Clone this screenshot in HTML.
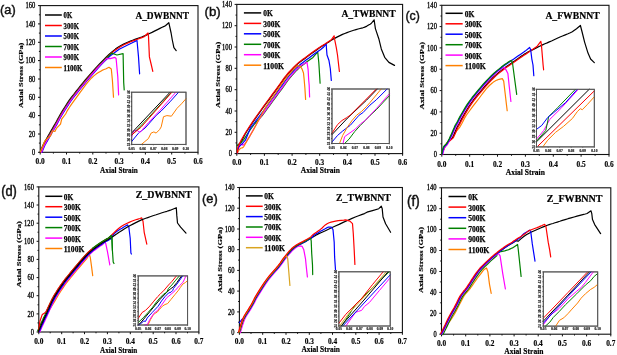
<!DOCTYPE html>
<html><head><meta charset="utf-8"><style>
html,body{margin:0;padding:0;background:#fff;}
body{width:617px;height:355px;overflow:hidden;}
svg{display:block;will-change:transform;}
</style></head><body>
<svg xmlns="http://www.w3.org/2000/svg" width="617" height="355" viewBox="0 0 617 355">
<rect width="617" height="355" fill="#fff"/>
<rect x="40.2" y="5.6" width="157.8" height="146.7" fill="none" stroke="#111" stroke-width="1.1"/>
<line x1="38.0" y1="152.3" x2="40.2" y2="152.3" stroke="#111" stroke-width="1"/>
<text x="35.3" y="154.9" font-family='"Liberation Serif", serif' font-size="7.6" text-anchor="end" textLength="3.2" lengthAdjust="spacingAndGlyphs" fill="#000"  stroke="#000" stroke-width="0.3">0</text>
<line x1="38.9" y1="143.1" x2="40.2" y2="143.1" stroke="#111" stroke-width="1"/>
<line x1="38.0" y1="134.0" x2="40.2" y2="134.0" stroke="#111" stroke-width="1"/>
<text x="35.3" y="136.6" font-family='"Liberation Serif", serif' font-size="7.6" text-anchor="end" textLength="6.5" lengthAdjust="spacingAndGlyphs" fill="#000"  stroke="#000" stroke-width="0.3">20</text>
<line x1="38.9" y1="124.8" x2="40.2" y2="124.8" stroke="#111" stroke-width="1"/>
<line x1="38.0" y1="115.6" x2="40.2" y2="115.6" stroke="#111" stroke-width="1"/>
<text x="35.3" y="118.2" font-family='"Liberation Serif", serif' font-size="7.6" text-anchor="end" textLength="6.5" lengthAdjust="spacingAndGlyphs" fill="#000"  stroke="#000" stroke-width="0.3">40</text>
<line x1="38.9" y1="106.5" x2="40.2" y2="106.5" stroke="#111" stroke-width="1"/>
<line x1="38.0" y1="97.3" x2="40.2" y2="97.3" stroke="#111" stroke-width="1"/>
<text x="35.3" y="99.9" font-family='"Liberation Serif", serif' font-size="7.6" text-anchor="end" textLength="6.5" lengthAdjust="spacingAndGlyphs" fill="#000"  stroke="#000" stroke-width="0.3">60</text>
<line x1="38.9" y1="88.1" x2="40.2" y2="88.1" stroke="#111" stroke-width="1"/>
<line x1="38.0" y1="79.0" x2="40.2" y2="79.0" stroke="#111" stroke-width="1"/>
<text x="35.3" y="81.5" font-family='"Liberation Serif", serif' font-size="7.6" text-anchor="end" textLength="6.5" lengthAdjust="spacingAndGlyphs" fill="#000"  stroke="#000" stroke-width="0.3">80</text>
<line x1="38.9" y1="69.8" x2="40.2" y2="69.8" stroke="#111" stroke-width="1"/>
<line x1="38.0" y1="60.6" x2="40.2" y2="60.6" stroke="#111" stroke-width="1"/>
<text x="35.3" y="63.2" font-family='"Liberation Serif", serif' font-size="7.6" text-anchor="end" textLength="9.8" lengthAdjust="spacingAndGlyphs" fill="#000"  stroke="#000" stroke-width="0.3">100</text>
<line x1="38.9" y1="51.4" x2="40.2" y2="51.4" stroke="#111" stroke-width="1"/>
<line x1="38.0" y1="42.3" x2="40.2" y2="42.3" stroke="#111" stroke-width="1"/>
<text x="35.3" y="44.9" font-family='"Liberation Serif", serif' font-size="7.6" text-anchor="end" textLength="9.8" lengthAdjust="spacingAndGlyphs" fill="#000"  stroke="#000" stroke-width="0.3">120</text>
<line x1="38.9" y1="33.1" x2="40.2" y2="33.1" stroke="#111" stroke-width="1"/>
<line x1="38.0" y1="23.9" x2="40.2" y2="23.9" stroke="#111" stroke-width="1"/>
<text x="35.3" y="26.5" font-family='"Liberation Serif", serif' font-size="7.6" text-anchor="end" textLength="9.8" lengthAdjust="spacingAndGlyphs" fill="#000"  stroke="#000" stroke-width="0.3">140</text>
<line x1="38.9" y1="14.8" x2="40.2" y2="14.8" stroke="#111" stroke-width="1"/>
<line x1="38.0" y1="5.6" x2="40.2" y2="5.6" stroke="#111" stroke-width="1"/>
<text x="35.3" y="8.2" font-family='"Liberation Serif", serif' font-size="7.6" text-anchor="end" textLength="9.8" lengthAdjust="spacingAndGlyphs" fill="#000"  stroke="#000" stroke-width="0.3">160</text>
<line x1="40.2" y1="152.3" x2="40.2" y2="154.5" stroke="#111" stroke-width="1"/>
<text x="40.2" y="163.9" font-family='"Liberation Serif", serif' font-size="7.8" font-weight="bold" text-anchor="middle" textLength="9.2" lengthAdjust="spacingAndGlyphs" fill="#000"  stroke="#000" stroke-width="0.15">0.0</text>
<line x1="53.4" y1="152.3" x2="53.4" y2="153.6" stroke="#111" stroke-width="1"/>
<line x1="66.5" y1="152.3" x2="66.5" y2="154.5" stroke="#111" stroke-width="1"/>
<text x="66.5" y="163.9" font-family='"Liberation Serif", serif' font-size="7.8" font-weight="bold" text-anchor="middle" textLength="9.2" lengthAdjust="spacingAndGlyphs" fill="#000"  stroke="#000" stroke-width="0.15">0.1</text>
<line x1="79.7" y1="152.3" x2="79.7" y2="153.6" stroke="#111" stroke-width="1"/>
<line x1="92.8" y1="152.3" x2="92.8" y2="154.5" stroke="#111" stroke-width="1"/>
<text x="92.8" y="163.9" font-family='"Liberation Serif", serif' font-size="7.8" font-weight="bold" text-anchor="middle" textLength="9.2" lengthAdjust="spacingAndGlyphs" fill="#000"  stroke="#000" stroke-width="0.15">0.2</text>
<line x1="106.0" y1="152.3" x2="106.0" y2="153.6" stroke="#111" stroke-width="1"/>
<line x1="119.1" y1="152.3" x2="119.1" y2="154.5" stroke="#111" stroke-width="1"/>
<text x="119.1" y="163.9" font-family='"Liberation Serif", serif' font-size="7.8" font-weight="bold" text-anchor="middle" textLength="9.2" lengthAdjust="spacingAndGlyphs" fill="#000"  stroke="#000" stroke-width="0.15">0.3</text>
<line x1="132.3" y1="152.3" x2="132.3" y2="153.6" stroke="#111" stroke-width="1"/>
<line x1="145.4" y1="152.3" x2="145.4" y2="154.5" stroke="#111" stroke-width="1"/>
<text x="145.4" y="163.9" font-family='"Liberation Serif", serif' font-size="7.8" font-weight="bold" text-anchor="middle" textLength="9.2" lengthAdjust="spacingAndGlyphs" fill="#000"  stroke="#000" stroke-width="0.15">0.4</text>
<line x1="158.6" y1="152.3" x2="158.6" y2="153.6" stroke="#111" stroke-width="1"/>
<line x1="171.7" y1="152.3" x2="171.7" y2="154.5" stroke="#111" stroke-width="1"/>
<text x="171.7" y="163.9" font-family='"Liberation Serif", serif' font-size="7.8" font-weight="bold" text-anchor="middle" textLength="9.2" lengthAdjust="spacingAndGlyphs" fill="#000"  stroke="#000" stroke-width="0.15">0.5</text>
<line x1="184.9" y1="152.3" x2="184.9" y2="153.6" stroke="#111" stroke-width="1"/>
<line x1="198.0" y1="152.3" x2="198.0" y2="154.5" stroke="#111" stroke-width="1"/>
<text x="198.0" y="163.9" font-family='"Liberation Serif", serif' font-size="7.8" font-weight="bold" text-anchor="middle" textLength="9.2" lengthAdjust="spacingAndGlyphs" fill="#000"  stroke="#000" stroke-width="0.15">0.6</text>
<text x="100.1" y="172.5" font-family='"Liberation Serif", serif' font-size="8.8" font-weight="bold" text-anchor="start" textLength="37.6" lengthAdjust="spacingAndGlyphs" fill="#000"  stroke="#000" stroke-width="0.2">Axial Strain</text>
<text transform="translate(23.2,75.3) rotate(-90) scale(1,0.84)" x="0" y="0" font-family='"Liberation Serif", serif' font-size="8.4" font-weight="bold" text-anchor="middle" textLength="65.3" lengthAdjust="spacingAndGlyphs" stroke="#000" stroke-width="0.2">Axial Stress (GPa)</text>
<text x="0.1" y="13.7" font-family='"Liberation Sans", sans-serif' font-size="13.52" text-anchor="start" textLength="15.6" lengthAdjust="spacingAndGlyphs" fill="#111"  stroke="#111" stroke-width="0.45">(a)</text>
<text x="135.4" y="18.8" font-family='"Liberation Serif", serif' font-size="9.8" font-weight="bold" text-anchor="start" textLength="53.6" lengthAdjust="spacingAndGlyphs" fill="#000"  stroke="#000" stroke-width="0.2">A_DWBNNT</text>
<line x1="45" y1="15.0" x2="61.8" y2="15.0" stroke="#000000" stroke-width="1.5"/>
<text x="63.6" y="18.4" font-family='"Liberation Serif", serif' font-size="8.9" font-weight="bold" text-anchor="start" textLength="8.6" lengthAdjust="spacingAndGlyphs" fill="#000"  stroke="#000" stroke-width="0.25">0K</text>
<line x1="45" y1="25.5" x2="61.8" y2="25.5" stroke="#ff0000" stroke-width="1.5"/>
<text x="63.6" y="28.9" font-family='"Liberation Serif", serif' font-size="8.9" font-weight="bold" text-anchor="start" textLength="15.4" lengthAdjust="spacingAndGlyphs" fill="#000"  stroke="#000" stroke-width="0.25">300K</text>
<line x1="45" y1="36.0" x2="61.8" y2="36.0" stroke="#0000ff" stroke-width="1.5"/>
<text x="63.6" y="39.4" font-family='"Liberation Serif", serif' font-size="8.9" font-weight="bold" text-anchor="start" textLength="15.4" lengthAdjust="spacingAndGlyphs" fill="#000"  stroke="#000" stroke-width="0.25">500K</text>
<line x1="45" y1="46.5" x2="61.8" y2="46.5" stroke="#008000" stroke-width="1.5"/>
<text x="63.6" y="49.9" font-family='"Liberation Serif", serif' font-size="8.9" font-weight="bold" text-anchor="start" textLength="15.4" lengthAdjust="spacingAndGlyphs" fill="#000"  stroke="#000" stroke-width="0.25">700K</text>
<line x1="45" y1="57.0" x2="61.8" y2="57.0" stroke="#ff00ff" stroke-width="1.5"/>
<text x="63.6" y="60.4" font-family='"Liberation Serif", serif' font-size="8.9" font-weight="bold" text-anchor="start" textLength="15.4" lengthAdjust="spacingAndGlyphs" fill="#000"  stroke="#000" stroke-width="0.25">900K</text>
<line x1="45" y1="67.5" x2="61.8" y2="67.5" stroke="#ff8000" stroke-width="1.5"/>
<text x="63.6" y="70.9" font-family='"Liberation Serif", serif' font-size="8.9" font-weight="bold" text-anchor="start" textLength="18.8" lengthAdjust="spacingAndGlyphs" fill="#000"  stroke="#000" stroke-width="0.25">1100K</text>
<polyline points="40.3,151.7 40.8,150.5 41.4,148.8 42.3,146.7 43.3,144.5 44.6,142.0 46.2,139.2 47.9,136.3 49.5,133.5 51.0,130.9 52.5,128.4 53.9,125.9 55.3,123.5 56.6,121.2 57.7,119.0 59.0,116.7 60.5,114.0 62.4,110.8 64.7,107.2 67.0,103.6 69.3,100.2 71.5,97.1 73.8,94.3 76.0,91.4 78.3,88.6 80.6,85.7 82.9,82.9 85.3,80.0 87.9,77.0 90.8,73.7 93.8,70.2 97.0,66.7 100.0,63.4 103.0,60.3 105.9,57.4 108.7,54.7 111.3,52.4 113.5,50.6 115.4,49.1 117.2,47.8 119.2,46.6 121.4,45.3 123.6,44.1 125.9,43.0 128.2,42.0 130.4,41.1 132.7,40.2 134.9,39.4 137.2,38.6 139.4,37.8 141.6,37.0 143.9,36.1 146.3,35.1 149.0,33.8 152.0,32.4 154.9,30.9 157.5,29.6 159.9,28.4 162.2,27.3 164.1,26.4 165.4,25.7 168.8,22.7 171.1,33.0 172.3,40.0 173.9,47.7 176.2,50.6" fill="none" stroke="#000000" stroke-width="1.2" stroke-linejoin="round" stroke-linecap="round"/>
<polyline points="41.0,152.0 41.4,150.7 42.1,149.0 42.9,147.0 43.9,144.8 45.2,142.3 46.8,139.5 48.5,136.6 50.1,133.8 51.6,131.3 53.1,128.8 54.5,126.3 55.9,123.8 57.2,121.5 58.3,119.3 59.6,117.0 61.1,114.4 63.0,111.2 65.3,107.6 67.6,104.0 69.9,100.6 72.1,97.6 74.3,94.7 76.5,91.9 78.8,89.0 81.1,86.2 83.4,83.4 85.8,80.5 88.4,77.5 91.3,74.1 94.4,70.6 97.5,67.1 100.5,63.9 103.5,60.8 106.4,57.9 109.2,55.2 111.8,52.9 113.9,51.1 115.8,49.7 117.6,48.4 119.6,47.2 121.7,46.0 123.9,44.8 126.2,43.7 128.5,42.6 130.7,41.7 132.9,40.9 135.2,40.1 137.4,39.3 139.7,38.4 141.9,37.6 144.1,36.8 148.0,33.0 148.5,36.4 149.4,56.9 151.1,64.0 152.8,71.3" fill="none" stroke="#ff0000" stroke-width="1.2" stroke-linejoin="round" stroke-linecap="round"/>
<polyline points="42.0,152.3 42.4,151.1 43.1,149.5 43.9,147.5 44.9,145.3 46.2,142.9 47.8,140.1 49.5,137.2 51.1,134.4 52.5,131.8 54.0,129.3 55.5,126.8 56.9,124.4 58.1,122.0 59.3,119.8 60.5,117.5 62.0,114.9 64.0,111.7 66.2,108.2 68.5,104.6 70.8,101.2 73.0,98.2 75.2,95.4 77.4,92.6 79.7,89.7 82.0,86.9 84.3,84.1 86.7,81.2 89.3,78.2 92.1,74.9 95.2,71.4 98.3,67.9 101.3,64.6 104.2,61.6 107.2,58.7 110.0,56.0 119.2,49.2 128.2,44.8 137.0,40.5 138.5,56.9 139.6,73.8" fill="none" stroke="#0000ff" stroke-width="1.2" stroke-linejoin="round" stroke-linecap="round"/>
<polyline points="41.1,152.0 41.6,150.8 42.2,149.1 43.1,147.1 44.1,144.9 45.4,142.4 47.0,139.6 48.7,136.7 50.3,133.9 51.8,131.4 53.2,128.9 54.7,126.4 56.1,123.9 57.4,121.6 58.5,119.4 59.7,117.1 61.3,114.5 63.2,111.3 65.4,107.7 67.8,104.1 70.0,100.7 72.2,97.7 74.5,94.8 76.7,92.0 79.0,89.2 81.3,86.3 83.6,83.5 86.0,80.6 88.6,77.6 91.4,74.3 94.5,70.8 97.6,67.3 100.7,64.0 103.6,61.0 106.5,58.1 109.3,55.4 111.9,53.1 116.9,55.0 123.1,53.7 123.7,82.5 124.2,89.9" fill="none" stroke="#008000" stroke-width="1.2" stroke-linejoin="round" stroke-linecap="round"/>
<polyline points="41.5,152.2 42.0,151.0 42.6,149.3 43.4,147.3 44.5,145.1 45.8,142.6 47.4,139.8 49.0,136.9 50.6,134.1 52.1,131.6 53.6,129.1 55.0,126.6 56.4,124.1 57.7,121.8 58.9,119.6 60.1,117.3 61.6,114.7 63.5,111.5 65.8,107.9 68.1,104.3 70.4,100.9 72.6,97.9 74.8,95.1 77.0,92.3 79.3,89.4 81.6,86.6 83.9,83.8 86.3,80.9 88.9,77.8 91.7,74.5 94.8,71.0 97.9,67.5 100.9,64.3 103.9,61.3 106.8,58.3 110.1,58.7 114.9,57.3 116.1,58.5 117.8,76.9 118.6,94.9" fill="none" stroke="#ff00ff" stroke-width="1.2" stroke-linejoin="round" stroke-linecap="round"/>
<polyline points="40.3,151.7 42.5,146.7 44.8,141.0 47.0,138.8 50.4,136.0 52.6,130.9 54.9,131.5 56.6,128.1 60.5,124.1 61.7,119.1 65.6,114.0 65.6,114.0 66.1,113.0 66.7,111.7 67.8,109.9 69.3,107.5 71.6,104.2 74.5,100.1 77.6,95.8 80.5,91.8 83.3,88.1 86.0,84.4 88.7,81.1 91.3,78.2 93.8,75.9 96.1,74.1 98.4,72.6 100.3,71.4 102.0,70.4 103.5,69.8 104.7,69.3 105.6,69.0 109.0,67.3 111.3,69.0 112.4,80.3 113.5,97.2" fill="none" stroke="#ff8000" stroke-width="1.2" stroke-linejoin="round" stroke-linecap="round"/>
<rect x="131.7" y="92.2" width="54.3" height="52.2" fill="#fff" stroke="#555" stroke-width="0.9"/>
<polyline points="141.5,144.4 144.9,141.5 148.3,138.7 151.1,133.1 153.9,131.9 156.1,133.1 159.5,129.7 161.2,126.9 163.5,116.7 166.9,115.6 171.4,116.2 177.0,108.3 181.5,103.8 186.0,98.7" fill="none" stroke="#ff8000" stroke-width="1.0" stroke-linejoin="round" stroke-linecap="round"/>
<polyline points="131.7,141.5 134.5,138.0 139.0,132.6 145.1,128.0 151.3,121.0 156.3,115.3 161.0,111.2 170.0,101.8 178.6,92.2" fill="none" stroke="#0000ff" stroke-width="1.0" stroke-linejoin="round" stroke-linecap="round"/>
<polyline points="131.7,136.6 133.6,131.0 136.8,130.1 139.9,132.6 144.1,127.6 148.5,122.6 154.1,116.5 160.0,110.3 175.9,92.2" fill="none" stroke="#ff00ff" stroke-width="1.0" stroke-linejoin="round" stroke-linecap="round"/>
<polyline points="131.7,135.3 148.6,117.6 171.5,92.2" fill="none" stroke="#008000" stroke-width="1.0" stroke-linejoin="round" stroke-linecap="round"/>
<polyline points="131.7,134.9 141.1,127.2 158.0,108.0 171.9,92.2" fill="none" stroke="#ff0000" stroke-width="1.0" stroke-linejoin="round" stroke-linecap="round"/>
<polyline points="131.7,132.9 170.1,92.2" fill="none" stroke="#000000" stroke-width="1.0" stroke-linejoin="round" stroke-linecap="round"/>
<rect x="131.7" y="92.2" width="54.3" height="52.2" fill="none" stroke="#555" stroke-width="0.9"/>
<line x1="131.7" y1="144.4" x2="131.7" y2="145.4" stroke="#555" stroke-width="0.6"/>
<text x="131.7" y="149.6" font-family='"Liberation Serif", serif' font-size="3.3" font-weight="bold" text-anchor="middle" textLength="6.3" lengthAdjust="spacingAndGlyphs" fill="#222"  stroke="#222" stroke-width="0.15">0.05</text>
<line x1="142.6" y1="144.4" x2="142.6" y2="145.4" stroke="#555" stroke-width="0.6"/>
<text x="142.6" y="149.6" font-family='"Liberation Serif", serif' font-size="3.3" font-weight="bold" text-anchor="middle" textLength="6.3" lengthAdjust="spacingAndGlyphs" fill="#222"  stroke="#222" stroke-width="0.15">0.06</text>
<line x1="153.4" y1="144.4" x2="153.4" y2="145.4" stroke="#555" stroke-width="0.6"/>
<text x="153.4" y="149.6" font-family='"Liberation Serif", serif' font-size="3.3" font-weight="bold" text-anchor="middle" textLength="6.3" lengthAdjust="spacingAndGlyphs" fill="#222"  stroke="#222" stroke-width="0.15">0.07</text>
<line x1="164.3" y1="144.4" x2="164.3" y2="145.4" stroke="#555" stroke-width="0.6"/>
<text x="164.3" y="149.6" font-family='"Liberation Serif", serif' font-size="3.3" font-weight="bold" text-anchor="middle" textLength="6.3" lengthAdjust="spacingAndGlyphs" fill="#222"  stroke="#222" stroke-width="0.15">0.08</text>
<line x1="175.1" y1="144.4" x2="175.1" y2="145.4" stroke="#555" stroke-width="0.6"/>
<text x="175.1" y="149.6" font-family='"Liberation Serif", serif' font-size="3.3" font-weight="bold" text-anchor="middle" textLength="6.3" lengthAdjust="spacingAndGlyphs" fill="#222"  stroke="#222" stroke-width="0.15">0.09</text>
<line x1="186.0" y1="144.4" x2="186.0" y2="145.4" stroke="#555" stroke-width="0.6"/>
<text x="186.0" y="149.6" font-family='"Liberation Serif", serif' font-size="3.3" font-weight="bold" text-anchor="middle" textLength="6.3" lengthAdjust="spacingAndGlyphs" fill="#222"  stroke="#222" stroke-width="0.15">0.10</text>
<line x1="130.7" y1="144.4" x2="131.7" y2="144.4" stroke="#333" stroke-width="0.7"/>
<text transform="translate(129.7,144.4) rotate(-90)" font-family='"Liberation Serif", serif' font-size="3.4" font-weight="bold" text-anchor="middle" textLength="3.6" lengthAdjust="spacingAndGlyphs" fill="#222" stroke="#222" stroke-width="0.15">24</text>
<line x1="130.7" y1="139.7" x2="131.7" y2="139.7" stroke="#333" stroke-width="0.7"/>
<text transform="translate(129.7,139.7) rotate(-90)" font-family='"Liberation Serif", serif' font-size="3.4" font-weight="bold" text-anchor="middle" textLength="3.6" lengthAdjust="spacingAndGlyphs" fill="#222" stroke="#222" stroke-width="0.15">26</text>
<line x1="130.7" y1="134.9" x2="131.7" y2="134.9" stroke="#333" stroke-width="0.7"/>
<text transform="translate(129.7,134.9) rotate(-90)" font-family='"Liberation Serif", serif' font-size="3.4" font-weight="bold" text-anchor="middle" textLength="3.6" lengthAdjust="spacingAndGlyphs" fill="#222" stroke="#222" stroke-width="0.15">28</text>
<line x1="130.7" y1="130.2" x2="131.7" y2="130.2" stroke="#333" stroke-width="0.7"/>
<text transform="translate(129.7,130.2) rotate(-90)" font-family='"Liberation Serif", serif' font-size="3.4" font-weight="bold" text-anchor="middle" textLength="3.6" lengthAdjust="spacingAndGlyphs" fill="#222" stroke="#222" stroke-width="0.15">30</text>
<line x1="130.7" y1="125.4" x2="131.7" y2="125.4" stroke="#333" stroke-width="0.7"/>
<text transform="translate(129.7,125.4) rotate(-90)" font-family='"Liberation Serif", serif' font-size="3.4" font-weight="bold" text-anchor="middle" textLength="3.6" lengthAdjust="spacingAndGlyphs" fill="#222" stroke="#222" stroke-width="0.15">32</text>
<line x1="130.7" y1="120.7" x2="131.7" y2="120.7" stroke="#333" stroke-width="0.7"/>
<text transform="translate(129.7,120.7) rotate(-90)" font-family='"Liberation Serif", serif' font-size="3.4" font-weight="bold" text-anchor="middle" textLength="3.6" lengthAdjust="spacingAndGlyphs" fill="#222" stroke="#222" stroke-width="0.15">34</text>
<line x1="130.7" y1="115.9" x2="131.7" y2="115.9" stroke="#333" stroke-width="0.7"/>
<text transform="translate(129.7,115.9) rotate(-90)" font-family='"Liberation Serif", serif' font-size="3.4" font-weight="bold" text-anchor="middle" textLength="3.6" lengthAdjust="spacingAndGlyphs" fill="#222" stroke="#222" stroke-width="0.15">36</text>
<line x1="130.7" y1="111.2" x2="131.7" y2="111.2" stroke="#333" stroke-width="0.7"/>
<text transform="translate(129.7,111.2) rotate(-90)" font-family='"Liberation Serif", serif' font-size="3.4" font-weight="bold" text-anchor="middle" textLength="3.6" lengthAdjust="spacingAndGlyphs" fill="#222" stroke="#222" stroke-width="0.15">38</text>
<line x1="130.7" y1="106.4" x2="131.7" y2="106.4" stroke="#333" stroke-width="0.7"/>
<text transform="translate(129.7,106.4) rotate(-90)" font-family='"Liberation Serif", serif' font-size="3.4" font-weight="bold" text-anchor="middle" textLength="3.6" lengthAdjust="spacingAndGlyphs" fill="#222" stroke="#222" stroke-width="0.15">40</text>
<line x1="130.7" y1="101.7" x2="131.7" y2="101.7" stroke="#333" stroke-width="0.7"/>
<text transform="translate(129.7,101.7) rotate(-90)" font-family='"Liberation Serif", serif' font-size="3.4" font-weight="bold" text-anchor="middle" textLength="3.6" lengthAdjust="spacingAndGlyphs" fill="#222" stroke="#222" stroke-width="0.15">42</text>
<line x1="130.7" y1="96.9" x2="131.7" y2="96.9" stroke="#333" stroke-width="0.7"/>
<text transform="translate(129.7,96.9) rotate(-90)" font-family='"Liberation Serif", serif' font-size="3.4" font-weight="bold" text-anchor="middle" textLength="3.6" lengthAdjust="spacingAndGlyphs" fill="#222" stroke="#222" stroke-width="0.15">44</text>
<line x1="130.7" y1="92.2" x2="131.7" y2="92.2" stroke="#333" stroke-width="0.7"/>
<text transform="translate(129.7,92.2) rotate(-90)" font-family='"Liberation Serif", serif' font-size="3.4" font-weight="bold" text-anchor="middle" textLength="3.6" lengthAdjust="spacingAndGlyphs" fill="#222" stroke="#222" stroke-width="0.15">46</text>
<rect x="236.8" y="4.4" width="165.8" height="149.2" fill="none" stroke="#111" stroke-width="1.1"/>
<line x1="234.6" y1="153.6" x2="236.8" y2="153.6" stroke="#111" stroke-width="1"/>
<text x="231.9" y="156.2" font-family='"Liberation Serif", serif' font-size="7.6" text-anchor="end" textLength="3.2" lengthAdjust="spacingAndGlyphs" fill="#000"  stroke="#000" stroke-width="0.3">0</text>
<line x1="235.5" y1="142.9" x2="236.8" y2="142.9" stroke="#111" stroke-width="1"/>
<line x1="234.6" y1="132.3" x2="236.8" y2="132.3" stroke="#111" stroke-width="1"/>
<text x="231.9" y="134.9" font-family='"Liberation Serif", serif' font-size="7.6" text-anchor="end" textLength="6.5" lengthAdjust="spacingAndGlyphs" fill="#000"  stroke="#000" stroke-width="0.3">20</text>
<line x1="235.5" y1="121.6" x2="236.8" y2="121.6" stroke="#111" stroke-width="1"/>
<line x1="234.6" y1="111.0" x2="236.8" y2="111.0" stroke="#111" stroke-width="1"/>
<text x="231.9" y="113.6" font-family='"Liberation Serif", serif' font-size="7.6" text-anchor="end" textLength="6.5" lengthAdjust="spacingAndGlyphs" fill="#000"  stroke="#000" stroke-width="0.3">40</text>
<line x1="235.5" y1="100.3" x2="236.8" y2="100.3" stroke="#111" stroke-width="1"/>
<line x1="234.6" y1="89.7" x2="236.8" y2="89.7" stroke="#111" stroke-width="1"/>
<text x="231.9" y="92.3" font-family='"Liberation Serif", serif' font-size="7.6" text-anchor="end" textLength="6.5" lengthAdjust="spacingAndGlyphs" fill="#000"  stroke="#000" stroke-width="0.3">60</text>
<line x1="235.5" y1="79.0" x2="236.8" y2="79.0" stroke="#111" stroke-width="1"/>
<line x1="234.6" y1="68.3" x2="236.8" y2="68.3" stroke="#111" stroke-width="1"/>
<text x="231.9" y="70.9" font-family='"Liberation Serif", serif' font-size="7.6" text-anchor="end" textLength="6.5" lengthAdjust="spacingAndGlyphs" fill="#000"  stroke="#000" stroke-width="0.3">80</text>
<line x1="235.5" y1="57.7" x2="236.8" y2="57.7" stroke="#111" stroke-width="1"/>
<line x1="234.6" y1="47.0" x2="236.8" y2="47.0" stroke="#111" stroke-width="1"/>
<text x="231.9" y="49.6" font-family='"Liberation Serif", serif' font-size="7.6" text-anchor="end" textLength="9.8" lengthAdjust="spacingAndGlyphs" fill="#000"  stroke="#000" stroke-width="0.3">100</text>
<line x1="235.5" y1="36.4" x2="236.8" y2="36.4" stroke="#111" stroke-width="1"/>
<line x1="234.6" y1="25.7" x2="236.8" y2="25.7" stroke="#111" stroke-width="1"/>
<text x="231.9" y="28.3" font-family='"Liberation Serif", serif' font-size="7.6" text-anchor="end" textLength="9.8" lengthAdjust="spacingAndGlyphs" fill="#000"  stroke="#000" stroke-width="0.3">120</text>
<line x1="235.5" y1="15.1" x2="236.8" y2="15.1" stroke="#111" stroke-width="1"/>
<line x1="234.6" y1="4.4" x2="236.8" y2="4.4" stroke="#111" stroke-width="1"/>
<text x="231.9" y="7.0" font-family='"Liberation Serif", serif' font-size="7.6" text-anchor="end" textLength="9.8" lengthAdjust="spacingAndGlyphs" fill="#000"  stroke="#000" stroke-width="0.3">140</text>
<line x1="236.8" y1="153.6" x2="236.8" y2="155.8" stroke="#111" stroke-width="1"/>
<text x="236.8" y="165.2" font-family='"Liberation Serif", serif' font-size="7.8" font-weight="bold" text-anchor="middle" textLength="9.2" lengthAdjust="spacingAndGlyphs" fill="#000"  stroke="#000" stroke-width="0.15">0.0</text>
<line x1="250.6" y1="153.6" x2="250.6" y2="154.9" stroke="#111" stroke-width="1"/>
<line x1="264.4" y1="153.6" x2="264.4" y2="155.8" stroke="#111" stroke-width="1"/>
<text x="264.4" y="165.2" font-family='"Liberation Serif", serif' font-size="7.8" font-weight="bold" text-anchor="middle" textLength="9.2" lengthAdjust="spacingAndGlyphs" fill="#000"  stroke="#000" stroke-width="0.15">0.1</text>
<line x1="278.2" y1="153.6" x2="278.2" y2="154.9" stroke="#111" stroke-width="1"/>
<line x1="292.1" y1="153.6" x2="292.1" y2="155.8" stroke="#111" stroke-width="1"/>
<text x="292.1" y="165.2" font-family='"Liberation Serif", serif' font-size="7.8" font-weight="bold" text-anchor="middle" textLength="9.2" lengthAdjust="spacingAndGlyphs" fill="#000"  stroke="#000" stroke-width="0.15">0.2</text>
<line x1="305.9" y1="153.6" x2="305.9" y2="154.9" stroke="#111" stroke-width="1"/>
<line x1="319.7" y1="153.6" x2="319.7" y2="155.8" stroke="#111" stroke-width="1"/>
<text x="319.7" y="165.2" font-family='"Liberation Serif", serif' font-size="7.8" font-weight="bold" text-anchor="middle" textLength="9.2" lengthAdjust="spacingAndGlyphs" fill="#000"  stroke="#000" stroke-width="0.15">0.3</text>
<line x1="333.5" y1="153.6" x2="333.5" y2="154.9" stroke="#111" stroke-width="1"/>
<line x1="347.3" y1="153.6" x2="347.3" y2="155.8" stroke="#111" stroke-width="1"/>
<text x="347.3" y="165.2" font-family='"Liberation Serif", serif' font-size="7.8" font-weight="bold" text-anchor="middle" textLength="9.2" lengthAdjust="spacingAndGlyphs" fill="#000"  stroke="#000" stroke-width="0.15">0.4</text>
<line x1="361.2" y1="153.6" x2="361.2" y2="154.9" stroke="#111" stroke-width="1"/>
<line x1="375.0" y1="153.6" x2="375.0" y2="155.8" stroke="#111" stroke-width="1"/>
<text x="375.0" y="165.2" font-family='"Liberation Serif", serif' font-size="7.8" font-weight="bold" text-anchor="middle" textLength="9.2" lengthAdjust="spacingAndGlyphs" fill="#000"  stroke="#000" stroke-width="0.15">0.5</text>
<line x1="388.8" y1="153.6" x2="388.8" y2="154.9" stroke="#111" stroke-width="1"/>
<line x1="402.6" y1="153.6" x2="402.6" y2="155.8" stroke="#111" stroke-width="1"/>
<text x="402.6" y="165.2" font-family='"Liberation Serif", serif' font-size="7.8" font-weight="bold" text-anchor="middle" textLength="9.2" lengthAdjust="spacingAndGlyphs" fill="#000"  stroke="#000" stroke-width="0.15">0.6</text>
<text x="300.8" y="173.2" font-family='"Liberation Serif", serif' font-size="8.8" font-weight="bold" text-anchor="start" textLength="39.1" lengthAdjust="spacingAndGlyphs" fill="#000"  stroke="#000" stroke-width="0.2">Axial Strain</text>
<text transform="translate(219.8,74.8) rotate(-90) scale(1,0.84)" x="0" y="0" font-family='"Liberation Serif", serif' font-size="8.4" font-weight="bold" text-anchor="middle" textLength="66.2" lengthAdjust="spacingAndGlyphs" stroke="#000" stroke-width="0.2">Axial Stress (GPa)</text>
<text x="204.5" y="15.9" font-family='"Liberation Sans", sans-serif' font-size="13.63" text-anchor="start" textLength="16.2" lengthAdjust="spacingAndGlyphs" fill="#111"  stroke="#111" stroke-width="0.45">(b)</text>
<text x="341.4" y="16.6" font-family='"Liberation Serif", serif' font-size="9.8" font-weight="bold" text-anchor="start" textLength="54.2" lengthAdjust="spacingAndGlyphs" fill="#000"  stroke="#000" stroke-width="0.2">A_TWBNNT</text>
<line x1="243.9" y1="12.9" x2="261.2" y2="12.9" stroke="#000000" stroke-width="1.5"/>
<text x="263.2" y="16.3" font-family='"Liberation Serif", serif' font-size="8.9" font-weight="bold" text-anchor="start" textLength="9.5" lengthAdjust="spacingAndGlyphs" fill="#000"  stroke="#000" stroke-width="0.25">0K</text>
<line x1="243.9" y1="23.4" x2="261.2" y2="23.4" stroke="#ff0000" stroke-width="1.5"/>
<text x="263.2" y="26.8" font-family='"Liberation Serif", serif' font-size="8.9" font-weight="bold" text-anchor="start" textLength="17.0" lengthAdjust="spacingAndGlyphs" fill="#000"  stroke="#000" stroke-width="0.25">300K</text>
<line x1="243.9" y1="33.8" x2="261.2" y2="33.8" stroke="#0000ff" stroke-width="1.5"/>
<text x="263.2" y="37.2" font-family='"Liberation Serif", serif' font-size="8.9" font-weight="bold" text-anchor="start" textLength="17.0" lengthAdjust="spacingAndGlyphs" fill="#000"  stroke="#000" stroke-width="0.25">500K</text>
<line x1="243.9" y1="44.3" x2="261.2" y2="44.3" stroke="#008000" stroke-width="1.5"/>
<text x="263.2" y="47.7" font-family='"Liberation Serif", serif' font-size="8.9" font-weight="bold" text-anchor="start" textLength="17.0" lengthAdjust="spacingAndGlyphs" fill="#000"  stroke="#000" stroke-width="0.25">700K</text>
<line x1="243.9" y1="54.7" x2="261.2" y2="54.7" stroke="#ff00ff" stroke-width="1.5"/>
<text x="263.2" y="58.1" font-family='"Liberation Serif", serif' font-size="8.9" font-weight="bold" text-anchor="start" textLength="17.0" lengthAdjust="spacingAndGlyphs" fill="#000"  stroke="#000" stroke-width="0.25">900K</text>
<line x1="243.9" y1="65.2" x2="261.2" y2="65.2" stroke="#ff8000" stroke-width="1.5"/>
<text x="263.2" y="68.6" font-family='"Liberation Serif", serif' font-size="8.9" font-weight="bold" text-anchor="start" textLength="20.7" lengthAdjust="spacingAndGlyphs" fill="#000"  stroke="#000" stroke-width="0.25">1100K</text>
<polyline points="237.4,145.5 240.8,142.8 244.6,135.0 246.7,131.5 248.8,128.2 250.9,125.1 253.0,122.0 255.1,118.8 257.3,115.7 259.5,112.7 261.6,109.7 263.8,106.6 266.3,103.2 269.2,99.3 272.4,94.9 275.6,90.6 278.4,86.7 280.7,83.5 282.7,80.8 284.5,78.2 286.6,75.6 288.9,72.8 291.4,70.1 294.0,67.4 296.6,64.9 299.3,62.6 302.0,60.5 304.9,58.4 307.7,56.3 310.7,54.1 313.7,51.9 316.6,49.9 319.2,48.0 321.5,46.5 323.5,45.3 325.4,44.2 327.0,43.1 328.5,42.2 329.8,41.3 330.8,40.6 333.5,38.9 335.1,38.1 337.4,36.9 340.0,35.6 342.5,34.4 344.8,33.5 347.0,32.6 349.3,31.8 351.5,31.0 353.7,30.3 356.0,29.6 358.1,29.0 360.0,28.5 361.5,28.1 362.8,27.8 364.0,27.4 365.3,26.9 366.9,26.1 368.6,25.1 370.1,24.2 371.2,23.5 374.1,19.8 375.4,28.6 378.8,38.7 381.3,48.9 384.7,57.3 388.9,62.4 394.5,65.4" fill="none" stroke="#000000" stroke-width="1.2" stroke-linejoin="round" stroke-linecap="round"/>
<polyline points="237.4,145.5 240.8,142.8 243.9,139.4 249.0,131.5 254.5,124.0 262.7,115.0 264.8,112.1 267.1,109.0 269.6,105.6 272.4,101.6 275.6,97.3 278.8,93.0 281.7,89.1 284.0,85.9 285.9,83.1 287.7,80.6 289.7,78.1 292.0,75.4 294.3,72.8 296.8,70.2 299.2,67.9 301.8,65.7 304.4,63.7 307.2,61.6 310.1,59.5 313.0,57.4 317.7,51.8 318.8,62.5 319.9,80.0 320.1,83.2" fill="none" stroke="#008000" stroke-width="1.2" stroke-linejoin="round" stroke-linecap="round"/>
<polyline points="237.4,152.8 238.6,148.5 240.1,144.4 241.6,144.4 243.1,145.1 245.4,143.2 249.2,137.1 254.2,128.0 260.2,117.7 262.3,114.7 264.4,111.8 266.7,108.7 269.2,105.3 272.0,101.3 275.2,97.0 278.4,92.7 281.3,88.8 283.6,85.6 285.5,82.8 287.3,80.3 289.3,77.8 291.6,75.1 294.0,72.4 296.4,69.9 298.9,67.5 301.5,65.3 307.0,62.3 308.1,69.3 308.7,80.0 309.2,85.4 309.6,96.9" fill="none" stroke="#ff00ff" stroke-width="1.2" stroke-linejoin="round" stroke-linecap="round"/>
<polyline points="237.4,152.8 238.6,147.0 241.6,144.4 245.4,140.2 250.4,128.0 263.3,111.0 265.5,107.9 268.0,104.5 270.9,100.5 274.1,96.1 277.3,91.8 280.1,88.0 282.4,84.8 284.4,82.0 286.2,79.5 288.2,76.9 290.5,74.2 292.9,71.5 295.4,68.9 298.0,66.5 300.6,64.2 303.3,62.2 306.1,60.1 309.0,58.0 311.9,55.8 314.9,53.6 317.8,51.6 320.4,49.8 323.4,47.3 326.2,43.9 326.5,48.8 327.0,55.0 328.9,60.2 330.3,68.5 331.3,80.4" fill="none" stroke="#0000ff" stroke-width="1.2" stroke-linejoin="round" stroke-linecap="round"/>
<polyline points="237.4,152.7 237.7,152.2 238.0,151.5 238.5,150.8 238.9,150.1 239.4,149.5 239.8,149.0 240.3,148.6 240.8,148.2 241.2,148.0 241.6,148.0 242.0,147.9 242.4,147.8 242.7,147.6 243.0,147.4 243.4,147.0 243.9,146.3 244.7,145.0 245.6,143.3 246.5,141.6 247.3,140.2 247.8,139.4 248.1,138.8 248.5,138.2 249.2,137.1 250.3,135.3 251.5,133.2 253.0,130.7 254.5,128.0 256.1,125.0 257.8,121.6 259.6,118.2 261.3,115.0 262.9,112.1 264.5,109.2 266.1,106.6 267.7,104.0 269.5,101.4 271.4,98.8 273.1,96.6 274.3,95.0 279.3,87.4 281.6,84.2 283.6,81.4 285.4,78.8 287.5,76.3 289.8,73.5 292.2,70.8 294.7,68.2 297.3,65.7 300.3,66.3 302.1,69.1 303.5,73.0 304.2,80.0 304.9,88.2 305.6,99.4" fill="none" stroke="#ff8000" stroke-width="1.2" stroke-linejoin="round" stroke-linecap="round"/>
<polyline points="237.4,152.7 237.4,151.9 237.4,150.7 237.5,149.3 237.8,147.8 238.3,146.4 238.8,144.9 239.7,143.1 240.8,140.9 242.4,138.1 244.3,134.8 246.4,131.3 248.5,128.0 250.6,124.8 252.7,121.7 254.8,118.6 257.0,115.5 259.1,112.5 261.3,109.5 263.5,106.4 266.0,103.0 268.9,99.0 272.1,94.7 275.3,90.3 278.1,86.5 280.4,83.3 282.3,80.5 284.2,77.9 286.3,75.3 288.6,72.5 291.1,69.8 293.7,67.1 296.3,64.6 299.0,62.3 301.8,60.1 304.7,58.1 307.5,56.0 310.4,53.8 313.5,51.6 316.4,49.5 319.0,47.7 321.3,46.2 323.3,44.9 325.2,43.8 326.8,42.8 328.3,41.8 329.5,41.0 330.6,40.3 331.3,39.8 334.1,35.8 334.6,39.2 336.3,47.7 337.5,55.0 339.4,71.5" fill="none" stroke="#ff0000" stroke-width="1.2" stroke-linejoin="round" stroke-linecap="round"/>
<rect x="332" y="89" width="57.3" height="54.5" fill="#fff" stroke="#555" stroke-width="0.9"/>
<polyline points="344.6,143.5 349.0,139.2 354.7,131.6 360.4,125.3 365.4,120.3 370.0,115.5 376.3,109.7 389.3,95.8" fill="none" stroke="#008000" stroke-width="1.0" stroke-linejoin="round" stroke-linecap="round"/>
<polyline points="343.0,143.5 344.6,136.7 349.0,133.5 355.3,129.1 360.4,124.0 365.4,120.3 370.0,115.2 376.3,108.7 389.3,93.9" fill="none" stroke="#ff00ff" stroke-width="1.0" stroke-linejoin="round" stroke-linecap="round"/>
<polyline points="332.0,142.0 337.6,135.4 342.7,131.0 350.3,125.3 359.1,115.2 362.9,112.7 370.0,105.1 376.3,99.8 387.1,89.0" fill="none" stroke="#0000ff" stroke-width="1.0" stroke-linejoin="round" stroke-linecap="round"/>
<polyline points="339.5,143.5 342.7,135.4 347.7,126.6 352.2,120.3 356.6,115.2 361.6,111.4 366.7,106.3 370.0,102.5 381.2,89.0" fill="none" stroke="#ff8000" stroke-width="1.0" stroke-linejoin="round" stroke-linecap="round"/>
<polyline points="332.0,134.6 347.7,117.9 366.7,100.0 377.3,89.0" fill="none" stroke="#000000" stroke-width="1.0" stroke-linejoin="round" stroke-linecap="round"/>
<polyline points="332.0,133.2 337.6,124.5 342.0,120.5 346.5,117.7 350.3,115.2 365.4,100.0 376.3,89.0" fill="none" stroke="#ff0000" stroke-width="1.0" stroke-linejoin="round" stroke-linecap="round"/>
<rect x="332" y="89" width="57.3" height="54.5" fill="none" stroke="#555" stroke-width="0.9"/>
<line x1="332.0" y1="143.5" x2="332.0" y2="144.5" stroke="#555" stroke-width="0.6"/>
<text x="332.0" y="149.1" font-family='"Liberation Serif", serif' font-size="3.3" font-weight="bold" text-anchor="middle" textLength="6.3" lengthAdjust="spacingAndGlyphs" fill="#222"  stroke="#222" stroke-width="0.15">0.05</text>
<line x1="343.5" y1="143.5" x2="343.5" y2="144.5" stroke="#555" stroke-width="0.6"/>
<text x="343.5" y="149.1" font-family='"Liberation Serif", serif' font-size="3.3" font-weight="bold" text-anchor="middle" textLength="6.3" lengthAdjust="spacingAndGlyphs" fill="#222"  stroke="#222" stroke-width="0.15">0.06</text>
<line x1="354.9" y1="143.5" x2="354.9" y2="144.5" stroke="#555" stroke-width="0.6"/>
<text x="354.9" y="149.1" font-family='"Liberation Serif", serif' font-size="3.3" font-weight="bold" text-anchor="middle" textLength="6.3" lengthAdjust="spacingAndGlyphs" fill="#222"  stroke="#222" stroke-width="0.15">0.07</text>
<line x1="366.4" y1="143.5" x2="366.4" y2="144.5" stroke="#555" stroke-width="0.6"/>
<text x="366.4" y="149.1" font-family='"Liberation Serif", serif' font-size="3.3" font-weight="bold" text-anchor="middle" textLength="6.3" lengthAdjust="spacingAndGlyphs" fill="#222"  stroke="#222" stroke-width="0.15">0.08</text>
<line x1="377.8" y1="143.5" x2="377.8" y2="144.5" stroke="#555" stroke-width="0.6"/>
<text x="377.8" y="149.1" font-family='"Liberation Serif", serif' font-size="3.3" font-weight="bold" text-anchor="middle" textLength="6.3" lengthAdjust="spacingAndGlyphs" fill="#222"  stroke="#222" stroke-width="0.15">0.09</text>
<line x1="389.3" y1="143.5" x2="389.3" y2="144.5" stroke="#555" stroke-width="0.6"/>
<text x="389.3" y="149.1" font-family='"Liberation Serif", serif' font-size="3.3" font-weight="bold" text-anchor="middle" textLength="6.3" lengthAdjust="spacingAndGlyphs" fill="#222"  stroke="#222" stroke-width="0.15">0.10</text>
<line x1="331.0" y1="143.5" x2="332" y2="143.5" stroke="#333" stroke-width="0.7"/>
<text transform="translate(330.0,143.5) rotate(-90)" font-family='"Liberation Serif", serif' font-size="3.4" font-weight="bold" text-anchor="middle" textLength="3.6" lengthAdjust="spacingAndGlyphs" fill="#222" stroke="#222" stroke-width="0.15">24</text>
<line x1="331.0" y1="138.5" x2="332" y2="138.5" stroke="#333" stroke-width="0.7"/>
<text transform="translate(330.0,138.5) rotate(-90)" font-family='"Liberation Serif", serif' font-size="3.4" font-weight="bold" text-anchor="middle" textLength="3.6" lengthAdjust="spacingAndGlyphs" fill="#222" stroke="#222" stroke-width="0.15">26</text>
<line x1="331.0" y1="133.6" x2="332" y2="133.6" stroke="#333" stroke-width="0.7"/>
<text transform="translate(330.0,133.6) rotate(-90)" font-family='"Liberation Serif", serif' font-size="3.4" font-weight="bold" text-anchor="middle" textLength="3.6" lengthAdjust="spacingAndGlyphs" fill="#222" stroke="#222" stroke-width="0.15">28</text>
<line x1="331.0" y1="128.6" x2="332" y2="128.6" stroke="#333" stroke-width="0.7"/>
<text transform="translate(330.0,128.6) rotate(-90)" font-family='"Liberation Serif", serif' font-size="3.4" font-weight="bold" text-anchor="middle" textLength="3.6" lengthAdjust="spacingAndGlyphs" fill="#222" stroke="#222" stroke-width="0.15">30</text>
<line x1="331.0" y1="123.7" x2="332" y2="123.7" stroke="#333" stroke-width="0.7"/>
<text transform="translate(330.0,123.7) rotate(-90)" font-family='"Liberation Serif", serif' font-size="3.4" font-weight="bold" text-anchor="middle" textLength="3.6" lengthAdjust="spacingAndGlyphs" fill="#222" stroke="#222" stroke-width="0.15">32</text>
<line x1="331.0" y1="118.7" x2="332" y2="118.7" stroke="#333" stroke-width="0.7"/>
<text transform="translate(330.0,118.7) rotate(-90)" font-family='"Liberation Serif", serif' font-size="3.4" font-weight="bold" text-anchor="middle" textLength="3.6" lengthAdjust="spacingAndGlyphs" fill="#222" stroke="#222" stroke-width="0.15">34</text>
<line x1="331.0" y1="113.8" x2="332" y2="113.8" stroke="#333" stroke-width="0.7"/>
<text transform="translate(330.0,113.8) rotate(-90)" font-family='"Liberation Serif", serif' font-size="3.4" font-weight="bold" text-anchor="middle" textLength="3.6" lengthAdjust="spacingAndGlyphs" fill="#222" stroke="#222" stroke-width="0.15">36</text>
<line x1="331.0" y1="108.8" x2="332" y2="108.8" stroke="#333" stroke-width="0.7"/>
<text transform="translate(330.0,108.8) rotate(-90)" font-family='"Liberation Serif", serif' font-size="3.4" font-weight="bold" text-anchor="middle" textLength="3.6" lengthAdjust="spacingAndGlyphs" fill="#222" stroke="#222" stroke-width="0.15">38</text>
<line x1="331.0" y1="103.9" x2="332" y2="103.9" stroke="#333" stroke-width="0.7"/>
<text transform="translate(330.0,103.9) rotate(-90)" font-family='"Liberation Serif", serif' font-size="3.4" font-weight="bold" text-anchor="middle" textLength="3.6" lengthAdjust="spacingAndGlyphs" fill="#222" stroke="#222" stroke-width="0.15">40</text>
<line x1="331.0" y1="98.9" x2="332" y2="98.9" stroke="#333" stroke-width="0.7"/>
<text transform="translate(330.0,98.9) rotate(-90)" font-family='"Liberation Serif", serif' font-size="3.4" font-weight="bold" text-anchor="middle" textLength="3.6" lengthAdjust="spacingAndGlyphs" fill="#222" stroke="#222" stroke-width="0.15">42</text>
<line x1="331.0" y1="94.0" x2="332" y2="94.0" stroke="#333" stroke-width="0.7"/>
<text transform="translate(330.0,94.0) rotate(-90)" font-family='"Liberation Serif", serif' font-size="3.4" font-weight="bold" text-anchor="middle" textLength="3.6" lengthAdjust="spacingAndGlyphs" fill="#222" stroke="#222" stroke-width="0.15">44</text>
<line x1="331.0" y1="89.0" x2="332" y2="89.0" stroke="#333" stroke-width="0.7"/>
<text transform="translate(330.0,89.0) rotate(-90)" font-family='"Liberation Serif", serif' font-size="3.4" font-weight="bold" text-anchor="middle" textLength="3.6" lengthAdjust="spacingAndGlyphs" fill="#222" stroke="#222" stroke-width="0.15">46</text>
<rect x="441.8" y="5.3" width="167.2" height="149.2" fill="none" stroke="#111" stroke-width="1.1"/>
<line x1="439.6" y1="154.5" x2="441.8" y2="154.5" stroke="#111" stroke-width="1"/>
<text x="436.9" y="157.1" font-family='"Liberation Serif", serif' font-size="7.6" text-anchor="end" textLength="3.2" lengthAdjust="spacingAndGlyphs" fill="#000"  stroke="#000" stroke-width="0.3">0</text>
<line x1="440.5" y1="143.8" x2="441.8" y2="143.8" stroke="#111" stroke-width="1"/>
<line x1="439.6" y1="133.2" x2="441.8" y2="133.2" stroke="#111" stroke-width="1"/>
<text x="436.9" y="135.8" font-family='"Liberation Serif", serif' font-size="7.6" text-anchor="end" textLength="6.5" lengthAdjust="spacingAndGlyphs" fill="#000"  stroke="#000" stroke-width="0.3">20</text>
<line x1="440.5" y1="122.5" x2="441.8" y2="122.5" stroke="#111" stroke-width="1"/>
<line x1="439.6" y1="111.9" x2="441.8" y2="111.9" stroke="#111" stroke-width="1"/>
<text x="436.9" y="114.5" font-family='"Liberation Serif", serif' font-size="7.6" text-anchor="end" textLength="6.5" lengthAdjust="spacingAndGlyphs" fill="#000"  stroke="#000" stroke-width="0.3">40</text>
<line x1="440.5" y1="101.2" x2="441.8" y2="101.2" stroke="#111" stroke-width="1"/>
<line x1="439.6" y1="90.6" x2="441.8" y2="90.6" stroke="#111" stroke-width="1"/>
<text x="436.9" y="93.2" font-family='"Liberation Serif", serif' font-size="7.6" text-anchor="end" textLength="6.5" lengthAdjust="spacingAndGlyphs" fill="#000"  stroke="#000" stroke-width="0.3">60</text>
<line x1="440.5" y1="79.9" x2="441.8" y2="79.9" stroke="#111" stroke-width="1"/>
<line x1="439.6" y1="69.2" x2="441.8" y2="69.2" stroke="#111" stroke-width="1"/>
<text x="436.9" y="71.8" font-family='"Liberation Serif", serif' font-size="7.6" text-anchor="end" textLength="6.5" lengthAdjust="spacingAndGlyphs" fill="#000"  stroke="#000" stroke-width="0.3">80</text>
<line x1="440.5" y1="58.6" x2="441.8" y2="58.6" stroke="#111" stroke-width="1"/>
<line x1="439.6" y1="47.9" x2="441.8" y2="47.9" stroke="#111" stroke-width="1"/>
<text x="436.9" y="50.5" font-family='"Liberation Serif", serif' font-size="7.6" text-anchor="end" textLength="9.8" lengthAdjust="spacingAndGlyphs" fill="#000"  stroke="#000" stroke-width="0.3">100</text>
<line x1="440.5" y1="37.3" x2="441.8" y2="37.3" stroke="#111" stroke-width="1"/>
<line x1="439.6" y1="26.6" x2="441.8" y2="26.6" stroke="#111" stroke-width="1"/>
<text x="436.9" y="29.2" font-family='"Liberation Serif", serif' font-size="7.6" text-anchor="end" textLength="9.8" lengthAdjust="spacingAndGlyphs" fill="#000"  stroke="#000" stroke-width="0.3">120</text>
<line x1="440.5" y1="16.0" x2="441.8" y2="16.0" stroke="#111" stroke-width="1"/>
<line x1="439.6" y1="5.3" x2="441.8" y2="5.3" stroke="#111" stroke-width="1"/>
<text x="436.9" y="7.9" font-family='"Liberation Serif", serif' font-size="7.6" text-anchor="end" textLength="9.8" lengthAdjust="spacingAndGlyphs" fill="#000"  stroke="#000" stroke-width="0.3">140</text>
<line x1="441.8" y1="154.5" x2="441.8" y2="156.7" stroke="#111" stroke-width="1"/>
<text x="441.8" y="166.9" font-family='"Liberation Serif", serif' font-size="7.8" font-weight="bold" text-anchor="middle" textLength="9.2" lengthAdjust="spacingAndGlyphs" fill="#000"  stroke="#000" stroke-width="0.15">0.0</text>
<line x1="455.7" y1="154.5" x2="455.7" y2="155.8" stroke="#111" stroke-width="1"/>
<line x1="469.7" y1="154.5" x2="469.7" y2="156.7" stroke="#111" stroke-width="1"/>
<text x="469.7" y="166.9" font-family='"Liberation Serif", serif' font-size="7.8" font-weight="bold" text-anchor="middle" textLength="9.2" lengthAdjust="spacingAndGlyphs" fill="#000"  stroke="#000" stroke-width="0.15">0.1</text>
<line x1="483.6" y1="154.5" x2="483.6" y2="155.8" stroke="#111" stroke-width="1"/>
<line x1="497.5" y1="154.5" x2="497.5" y2="156.7" stroke="#111" stroke-width="1"/>
<text x="497.5" y="166.9" font-family='"Liberation Serif", serif' font-size="7.8" font-weight="bold" text-anchor="middle" textLength="9.2" lengthAdjust="spacingAndGlyphs" fill="#000"  stroke="#000" stroke-width="0.15">0.2</text>
<line x1="511.5" y1="154.5" x2="511.5" y2="155.8" stroke="#111" stroke-width="1"/>
<line x1="525.4" y1="154.5" x2="525.4" y2="156.7" stroke="#111" stroke-width="1"/>
<text x="525.4" y="166.9" font-family='"Liberation Serif", serif' font-size="7.8" font-weight="bold" text-anchor="middle" textLength="9.2" lengthAdjust="spacingAndGlyphs" fill="#000"  stroke="#000" stroke-width="0.15">0.3</text>
<line x1="539.3" y1="154.5" x2="539.3" y2="155.8" stroke="#111" stroke-width="1"/>
<line x1="553.3" y1="154.5" x2="553.3" y2="156.7" stroke="#111" stroke-width="1"/>
<text x="553.3" y="166.9" font-family='"Liberation Serif", serif' font-size="7.8" font-weight="bold" text-anchor="middle" textLength="9.2" lengthAdjust="spacingAndGlyphs" fill="#000"  stroke="#000" stroke-width="0.15">0.4</text>
<line x1="567.2" y1="154.5" x2="567.2" y2="155.8" stroke="#111" stroke-width="1"/>
<line x1="581.1" y1="154.5" x2="581.1" y2="156.7" stroke="#111" stroke-width="1"/>
<text x="581.1" y="166.9" font-family='"Liberation Serif", serif' font-size="7.8" font-weight="bold" text-anchor="middle" textLength="9.2" lengthAdjust="spacingAndGlyphs" fill="#000"  stroke="#000" stroke-width="0.15">0.5</text>
<line x1="595.1" y1="154.5" x2="595.1" y2="155.8" stroke="#111" stroke-width="1"/>
<line x1="609.0" y1="154.5" x2="609.0" y2="156.7" stroke="#111" stroke-width="1"/>
<text x="609.0" y="166.9" font-family='"Liberation Serif", serif' font-size="7.8" font-weight="bold" text-anchor="middle" textLength="9.2" lengthAdjust="spacingAndGlyphs" fill="#000"  stroke="#000" stroke-width="0.15">0.6</text>
<text x="505.8" y="175.1" font-family='"Liberation Serif", serif' font-size="8.8" font-weight="bold" text-anchor="start" textLength="39.1" lengthAdjust="spacingAndGlyphs" fill="#000"  stroke="#000" stroke-width="0.2">Axial Strain</text>
<text transform="translate(423.7,75.6) rotate(-90) scale(1,0.84)" x="0" y="0" font-family='"Liberation Serif", serif' font-size="8.4" font-weight="bold" text-anchor="middle" textLength="67.6" lengthAdjust="spacingAndGlyphs" stroke="#000" stroke-width="0.2">Axial Stress (GPa)</text>
<text x="405.5" y="19.8" font-family='"Liberation Sans", sans-serif' font-size="13.52" text-anchor="start" textLength="14.4" lengthAdjust="spacingAndGlyphs" fill="#111"  stroke="#111" stroke-width="0.45">(c)</text>
<text x="545.4" y="18.8" font-family='"Liberation Serif", serif' font-size="9.8" font-weight="bold" text-anchor="start" textLength="54.2" lengthAdjust="spacingAndGlyphs" fill="#000"  stroke="#000" stroke-width="0.2">A_FWBNNT</text>
<line x1="445.5" y1="13.3" x2="462.7" y2="13.3" stroke="#000000" stroke-width="1.5"/>
<text x="464.7" y="16.7" font-family='"Liberation Serif", serif' font-size="8.9" font-weight="bold" text-anchor="start" textLength="9.7" lengthAdjust="spacingAndGlyphs" fill="#000"  stroke="#000" stroke-width="0.25">0K</text>
<line x1="445.5" y1="23.8" x2="462.7" y2="23.8" stroke="#ff0000" stroke-width="1.5"/>
<text x="464.7" y="27.2" font-family='"Liberation Serif", serif' font-size="8.9" font-weight="bold" text-anchor="start" textLength="17.3" lengthAdjust="spacingAndGlyphs" fill="#000"  stroke="#000" stroke-width="0.25">300K</text>
<line x1="445.5" y1="34.2" x2="462.7" y2="34.2" stroke="#0000ff" stroke-width="1.5"/>
<text x="464.7" y="37.6" font-family='"Liberation Serif", serif' font-size="8.9" font-weight="bold" text-anchor="start" textLength="17.3" lengthAdjust="spacingAndGlyphs" fill="#000"  stroke="#000" stroke-width="0.25">500K</text>
<line x1="445.5" y1="44.7" x2="462.7" y2="44.7" stroke="#008000" stroke-width="1.5"/>
<text x="464.7" y="48.1" font-family='"Liberation Serif", serif' font-size="8.9" font-weight="bold" text-anchor="start" textLength="17.3" lengthAdjust="spacingAndGlyphs" fill="#000"  stroke="#000" stroke-width="0.25">700K</text>
<line x1="445.5" y1="55.1" x2="462.7" y2="55.1" stroke="#ff00ff" stroke-width="1.5"/>
<text x="464.7" y="58.5" font-family='"Liberation Serif", serif' font-size="8.9" font-weight="bold" text-anchor="start" textLength="17.3" lengthAdjust="spacingAndGlyphs" fill="#000"  stroke="#000" stroke-width="0.25">900K</text>
<line x1="445.5" y1="65.6" x2="462.7" y2="65.6" stroke="#ff8000" stroke-width="1.5"/>
<text x="464.7" y="69.0" font-family='"Liberation Serif", serif' font-size="8.9" font-weight="bold" text-anchor="start" textLength="21.1" lengthAdjust="spacingAndGlyphs" fill="#000"  stroke="#000" stroke-width="0.25">1100K</text>
<polyline points="441.7,153.9 441.8,153.6 441.9,153.1 442.1,152.5 442.5,151.5 443.1,150.0 443.8,148.2 444.7,146.2 445.6,144.5 446.7,143.0 448.0,141.6 449.2,140.4 450.2,139.4 450.9,138.9 451.4,138.9 451.8,138.8 452.4,138.2 453.1,137.0 454.0,135.4 454.8,133.6 455.8,132.0 456.8,130.7 457.9,129.5 459.0,128.1 460.3,126.3 461.6,124.0 462.9,121.4 464.4,118.4 466.5,115.0 469.4,111.0 472.8,106.4 476.3,101.8 479.3,98.0 481.5,95.0 483.3,92.6 484.9,90.6 486.4,88.7 488.0,87.0 489.4,85.5 490.8,84.3 492.0,83.2 493.0,82.4 493.9,81.7 494.7,81.3 495.5,80.8 496.5,80.3 497.5,79.9 498.4,79.5 499.0,79.3 502.3,78.6 503.7,81.1 505.1,93.0 506.5,105.0 507.2,110.7" fill="none" stroke="#ff8000" stroke-width="1.2" stroke-linejoin="round" stroke-linecap="round"/>
<polyline points="441.7,153.9 444.5,147.2 448.5,141.5 452.6,137.6 453.7,135.3 454.6,133.1 455.5,130.9 456.3,129.0 457.0,127.4 457.6,126.4 458.0,125.6 458.6,124.8 459.3,123.5 460.1,122.0 460.8,120.4 461.8,118.6 463.1,116.3 464.8,113.3 466.9,109.7 469.2,106.0 471.6,102.5 474.1,99.1 476.9,95.7 479.7,92.3 482.5,89.1 485.2,86.0 487.9,82.9 490.5,80.1 493.1,77.5 495.7,75.1 498.2,72.9 500.7,70.9 502.9,69.1 504.8,67.7 506.5,66.5 508.1,65.4 509.5,64.4 510.6,63.7 511.4,63.2 512.2,62.6 513.5,61.7 515.3,60.5 517.4,59.0 519.5,57.5 521.5,56.1 523.2,55.0 524.9,53.8 526.4,52.9 527.4,52.2 531.3,50.4 533.4,49.4 536.3,47.9 539.6,46.3 542.5,44.9 544.9,43.8 547.2,42.9 549.3,41.9 551.5,41.0 553.6,40.0 555.7,39.0 557.8,38.0 560.0,37.0 562.5,36.0 565.3,34.9 568.0,33.8 570.3,32.8 572.3,31.7 574.0,30.5 575.5,29.4 576.5,28.7 580.4,25.5 582.1,32.0 584.6,42.1 588.0,53.1 590.6,59.0 594.3,62.7" fill="none" stroke="#000000" stroke-width="1.2" stroke-linejoin="round" stroke-linecap="round"/>
<polyline points="441.7,153.9 445.0,147.0 449.0,141.5 453.2,137.9 454.3,135.6 455.3,133.4 456.2,131.2 457.0,129.3 457.7,127.7 458.2,126.7 458.6,126.0 459.2,125.1 459.9,123.9 460.7,122.3 461.5,120.7 462.4,118.9 463.7,116.6 465.4,113.6 467.5,110.1 469.8,106.4 472.2,102.9 474.7,99.5 477.4,96.2 480.2,92.8 483.0,89.6 485.7,86.4 488.4,83.4 491.0,80.6 493.6,78.0 496.1,75.6 498.7,73.4 501.1,71.5 503.3,69.7 505.2,68.2 506.9,67.0 508.5,66.0 509.9,65.0 510.9,64.3 511.7,63.8 512.6,63.2 513.9,62.3 515.7,61.1 517.8,59.6 519.9,58.1 521.9,56.7 523.6,55.5 525.3,54.4 526.8,53.4 527.8,52.8 536.9,46.6 540.8,41.3 541.4,44.7 542.5,57.7 543.1,65.0 543.6,69.8" fill="none" stroke="#ff0000" stroke-width="1.2" stroke-linejoin="round" stroke-linecap="round"/>
<polyline points="442.9,154.1 443.1,152.8 443.5,151.0 444.0,149.1 444.5,147.6 445.0,146.8 445.7,146.2 446.7,145.3 447.8,143.8 448.9,141.8 450.1,139.5 451.3,137.0 452.4,134.7 453.4,132.5 454.2,130.4 455.1,128.4 455.8,126.8 456.4,125.7 456.8,124.9 457.4,124.1 458.1,122.9 458.8,121.4 459.6,119.8 460.5,117.9 461.8,115.6 463.6,112.6 465.7,109.0 468.1,105.3 470.5,101.7 473.0,98.3 475.8,94.8 478.6,91.4 481.4,88.2 484.1,85.0 486.9,82.0 489.5,79.1 492.1,76.5 494.7,74.1 497.3,71.8 499.8,69.8 502.0,68.0 504.6,67.6 506.3,70.4 507.9,73.5 509.3,87.0 510.9,101.5" fill="none" stroke="#ff00ff" stroke-width="1.2" stroke-linejoin="round" stroke-linecap="round"/>
<polyline points="442.2,154.0 442.5,152.7 442.8,150.9 443.3,148.9 443.9,147.3 444.5,146.4 445.3,145.7 446.2,144.8 447.2,143.5 448.3,141.5 449.5,139.2 450.7,136.7 451.8,134.4 452.7,132.3 453.6,130.1 454.4,128.2 455.2,126.5 455.8,125.3 456.3,124.5 456.8,123.7 457.4,122.5 458.2,121.1 458.9,119.5 459.9,117.6 461.2,115.2 463.0,112.2 465.1,108.7 467.5,104.9 469.9,101.3 472.5,97.8 475.3,94.4 478.1,91.0 480.9,87.7 483.6,84.6 486.3,81.5 489.0,78.6 491.6,76.0 494.3,73.5 496.9,71.3 499.4,69.3 501.6,67.5 503.6,66.0 505.3,64.7 506.9,63.7 508.3,62.7 509.4,62.0 510.2,61.4 511.1,60.8 512.3,60.0 514.1,58.8 516.2,57.3 518.3,55.8 520.3,54.4 522.1,53.2 523.8,52.1 525.2,51.1 529.6,47.5 530.7,49.8 531.8,58.8 533.0,65.0 533.8,75.7" fill="none" stroke="#0000ff" stroke-width="1.2" stroke-linejoin="round" stroke-linecap="round"/>
<polyline points="441.7,153.9 442.0,152.6 442.3,150.7 442.8,148.8 443.4,147.1 444.1,146.0 444.9,145.3 445.8,144.5 446.8,143.2 447.9,141.3 449.1,138.9 450.2,136.5 451.3,134.2 452.3,132.1 453.1,129.9 454.0,128.0 454.7,126.3 455.3,125.1 455.8,124.3 456.3,123.4 457.0,122.3 457.7,120.9 458.5,119.3 459.5,117.4 460.8,115.0 462.6,112.0 464.7,108.4 467.0,104.6 469.5,101.0 472.1,97.5 474.9,94.1 477.7,90.7 480.5,87.4 483.2,84.2 486.0,81.2 488.7,78.3 491.3,75.6 493.9,73.2 496.6,70.9 499.1,68.9 501.3,67.1 503.3,65.6 505.0,64.3 506.6,63.3 508.0,62.3 509.1,61.5 509.9,61.0 511.4,60.3 512.5,63.0 514.5,78.0 516.7,94.4" fill="none" stroke="#008000" stroke-width="1.2" stroke-linejoin="round" stroke-linecap="round"/>
<rect x="536.5" y="89.3" width="57.8" height="57.6" fill="#fff" stroke="#555" stroke-width="0.9"/>
<polyline points="542.8,146.9 547.7,140.2 555.6,132.3 563.5,126.4 572.4,118.5 577.3,111.6 580.3,108.7 582.3,109.7 587.2,104.7 594.3,96.8" fill="none" stroke="#ff8000" stroke-width="1.0" stroke-linejoin="round" stroke-linecap="round"/>
<polyline points="537.9,146.1 594.3,90.9" fill="none" stroke="#ff0000" stroke-width="1.0" stroke-linejoin="round" stroke-linecap="round"/>
<polyline points="536.5,141.8 589.2,89.3" fill="none" stroke="#000000" stroke-width="1.0" stroke-linejoin="round" stroke-linecap="round"/>
<polyline points="536.5,139.2 543.8,130.4 549.7,119.5 561.6,107.7 578.3,89.3" fill="none" stroke="#ff00ff" stroke-width="1.0" stroke-linejoin="round" stroke-linecap="round"/>
<polyline points="536.5,141.2 545.8,130.4 548.7,116.6 557.6,107.7 575.4,89.3" fill="none" stroke="#008000" stroke-width="1.0" stroke-linejoin="round" stroke-linecap="round"/>
<polyline points="536.5,129.4 541.8,125.4 547.7,117.5 553.7,112.6 565.5,102.7 577.3,89.3" fill="none" stroke="#0000ff" stroke-width="1.0" stroke-linejoin="round" stroke-linecap="round"/>
<rect x="536.5" y="89.3" width="57.8" height="57.6" fill="none" stroke="#555" stroke-width="0.9"/>
<line x1="536.5" y1="146.9" x2="536.5" y2="147.9" stroke="#555" stroke-width="0.6"/>
<text x="536.5" y="151.6" font-family='"Liberation Serif", serif' font-size="3.3" font-weight="bold" text-anchor="middle" textLength="6.3" lengthAdjust="spacingAndGlyphs" fill="#222"  stroke="#222" stroke-width="0.15">0.05</text>
<line x1="548.1" y1="146.9" x2="548.1" y2="147.9" stroke="#555" stroke-width="0.6"/>
<text x="548.1" y="151.6" font-family='"Liberation Serif", serif' font-size="3.3" font-weight="bold" text-anchor="middle" textLength="6.3" lengthAdjust="spacingAndGlyphs" fill="#222"  stroke="#222" stroke-width="0.15">0.06</text>
<line x1="559.6" y1="146.9" x2="559.6" y2="147.9" stroke="#555" stroke-width="0.6"/>
<text x="559.6" y="151.6" font-family='"Liberation Serif", serif' font-size="3.3" font-weight="bold" text-anchor="middle" textLength="6.3" lengthAdjust="spacingAndGlyphs" fill="#222"  stroke="#222" stroke-width="0.15">0.07</text>
<line x1="571.2" y1="146.9" x2="571.2" y2="147.9" stroke="#555" stroke-width="0.6"/>
<text x="571.2" y="151.6" font-family='"Liberation Serif", serif' font-size="3.3" font-weight="bold" text-anchor="middle" textLength="6.3" lengthAdjust="spacingAndGlyphs" fill="#222"  stroke="#222" stroke-width="0.15">0.08</text>
<line x1="582.7" y1="146.9" x2="582.7" y2="147.9" stroke="#555" stroke-width="0.6"/>
<text x="582.7" y="151.6" font-family='"Liberation Serif", serif' font-size="3.3" font-weight="bold" text-anchor="middle" textLength="6.3" lengthAdjust="spacingAndGlyphs" fill="#222"  stroke="#222" stroke-width="0.15">0.09</text>
<line x1="594.3" y1="146.9" x2="594.3" y2="147.9" stroke="#555" stroke-width="0.6"/>
<text x="594.3" y="151.6" font-family='"Liberation Serif", serif' font-size="3.3" font-weight="bold" text-anchor="middle" textLength="6.3" lengthAdjust="spacingAndGlyphs" fill="#222"  stroke="#222" stroke-width="0.15">0.10</text>
<line x1="535.5" y1="146.9" x2="536.5" y2="146.9" stroke="#333" stroke-width="0.7"/>
<text transform="translate(534.5,146.9) rotate(-90)" font-family='"Liberation Serif", serif' font-size="3.4" font-weight="bold" text-anchor="middle" textLength="3.6" lengthAdjust="spacingAndGlyphs" fill="#222" stroke="#222" stroke-width="0.15">24</text>
<line x1="535.5" y1="141.7" x2="536.5" y2="141.7" stroke="#333" stroke-width="0.7"/>
<text transform="translate(534.5,141.7) rotate(-90)" font-family='"Liberation Serif", serif' font-size="3.4" font-weight="bold" text-anchor="middle" textLength="3.6" lengthAdjust="spacingAndGlyphs" fill="#222" stroke="#222" stroke-width="0.15">26</text>
<line x1="535.5" y1="136.4" x2="536.5" y2="136.4" stroke="#333" stroke-width="0.7"/>
<text transform="translate(534.5,136.4) rotate(-90)" font-family='"Liberation Serif", serif' font-size="3.4" font-weight="bold" text-anchor="middle" textLength="3.6" lengthAdjust="spacingAndGlyphs" fill="#222" stroke="#222" stroke-width="0.15">28</text>
<line x1="535.5" y1="131.2" x2="536.5" y2="131.2" stroke="#333" stroke-width="0.7"/>
<text transform="translate(534.5,131.2) rotate(-90)" font-family='"Liberation Serif", serif' font-size="3.4" font-weight="bold" text-anchor="middle" textLength="3.6" lengthAdjust="spacingAndGlyphs" fill="#222" stroke="#222" stroke-width="0.15">30</text>
<line x1="535.5" y1="126.0" x2="536.5" y2="126.0" stroke="#333" stroke-width="0.7"/>
<text transform="translate(534.5,126.0) rotate(-90)" font-family='"Liberation Serif", serif' font-size="3.4" font-weight="bold" text-anchor="middle" textLength="3.6" lengthAdjust="spacingAndGlyphs" fill="#222" stroke="#222" stroke-width="0.15">32</text>
<line x1="535.5" y1="120.7" x2="536.5" y2="120.7" stroke="#333" stroke-width="0.7"/>
<text transform="translate(534.5,120.7) rotate(-90)" font-family='"Liberation Serif", serif' font-size="3.4" font-weight="bold" text-anchor="middle" textLength="3.6" lengthAdjust="spacingAndGlyphs" fill="#222" stroke="#222" stroke-width="0.15">34</text>
<line x1="535.5" y1="115.5" x2="536.5" y2="115.5" stroke="#333" stroke-width="0.7"/>
<text transform="translate(534.5,115.5) rotate(-90)" font-family='"Liberation Serif", serif' font-size="3.4" font-weight="bold" text-anchor="middle" textLength="3.6" lengthAdjust="spacingAndGlyphs" fill="#222" stroke="#222" stroke-width="0.15">36</text>
<line x1="535.5" y1="110.2" x2="536.5" y2="110.2" stroke="#333" stroke-width="0.7"/>
<text transform="translate(534.5,110.2) rotate(-90)" font-family='"Liberation Serif", serif' font-size="3.4" font-weight="bold" text-anchor="middle" textLength="3.6" lengthAdjust="spacingAndGlyphs" fill="#222" stroke="#222" stroke-width="0.15">38</text>
<line x1="535.5" y1="105.0" x2="536.5" y2="105.0" stroke="#333" stroke-width="0.7"/>
<text transform="translate(534.5,105.0) rotate(-90)" font-family='"Liberation Serif", serif' font-size="3.4" font-weight="bold" text-anchor="middle" textLength="3.6" lengthAdjust="spacingAndGlyphs" fill="#222" stroke="#222" stroke-width="0.15">40</text>
<line x1="535.5" y1="99.8" x2="536.5" y2="99.8" stroke="#333" stroke-width="0.7"/>
<text transform="translate(534.5,99.8) rotate(-90)" font-family='"Liberation Serif", serif' font-size="3.4" font-weight="bold" text-anchor="middle" textLength="3.6" lengthAdjust="spacingAndGlyphs" fill="#222" stroke="#222" stroke-width="0.15">42</text>
<line x1="535.5" y1="94.5" x2="536.5" y2="94.5" stroke="#333" stroke-width="0.7"/>
<text transform="translate(534.5,94.5) rotate(-90)" font-family='"Liberation Serif", serif' font-size="3.4" font-weight="bold" text-anchor="middle" textLength="3.6" lengthAdjust="spacingAndGlyphs" fill="#222" stroke="#222" stroke-width="0.15">44</text>
<line x1="535.5" y1="89.3" x2="536.5" y2="89.3" stroke="#333" stroke-width="0.7"/>
<text transform="translate(534.5,89.3) rotate(-90)" font-family='"Liberation Serif", serif' font-size="3.4" font-weight="bold" text-anchor="middle" textLength="3.6" lengthAdjust="spacingAndGlyphs" fill="#222" stroke="#222" stroke-width="0.15">46</text>
<rect x="38.8" y="186.9" width="160.1" height="145.1" fill="none" stroke="#111" stroke-width="1.1"/>
<line x1="36.6" y1="332.0" x2="38.8" y2="332.0" stroke="#111" stroke-width="1"/>
<text x="33.9" y="334.6" font-family='"Liberation Serif", serif' font-size="7.6" text-anchor="end" textLength="3.2" lengthAdjust="spacingAndGlyphs" fill="#000"  stroke="#000" stroke-width="0.3">0</text>
<line x1="37.5" y1="322.9" x2="38.8" y2="322.9" stroke="#111" stroke-width="1"/>
<line x1="36.6" y1="313.9" x2="38.8" y2="313.9" stroke="#111" stroke-width="1"/>
<text x="33.9" y="316.5" font-family='"Liberation Serif", serif' font-size="7.6" text-anchor="end" textLength="6.5" lengthAdjust="spacingAndGlyphs" fill="#000"  stroke="#000" stroke-width="0.3">20</text>
<line x1="37.5" y1="304.8" x2="38.8" y2="304.8" stroke="#111" stroke-width="1"/>
<line x1="36.6" y1="295.7" x2="38.8" y2="295.7" stroke="#111" stroke-width="1"/>
<text x="33.9" y="298.3" font-family='"Liberation Serif", serif' font-size="7.6" text-anchor="end" textLength="6.5" lengthAdjust="spacingAndGlyphs" fill="#000"  stroke="#000" stroke-width="0.3">40</text>
<line x1="37.5" y1="286.7" x2="38.8" y2="286.7" stroke="#111" stroke-width="1"/>
<line x1="36.6" y1="277.6" x2="38.8" y2="277.6" stroke="#111" stroke-width="1"/>
<text x="33.9" y="280.2" font-family='"Liberation Serif", serif' font-size="7.6" text-anchor="end" textLength="6.5" lengthAdjust="spacingAndGlyphs" fill="#000"  stroke="#000" stroke-width="0.3">60</text>
<line x1="37.5" y1="268.5" x2="38.8" y2="268.5" stroke="#111" stroke-width="1"/>
<line x1="36.6" y1="259.4" x2="38.8" y2="259.4" stroke="#111" stroke-width="1"/>
<text x="33.9" y="262.1" font-family='"Liberation Serif", serif' font-size="7.6" text-anchor="end" textLength="6.5" lengthAdjust="spacingAndGlyphs" fill="#000"  stroke="#000" stroke-width="0.3">80</text>
<line x1="37.5" y1="250.4" x2="38.8" y2="250.4" stroke="#111" stroke-width="1"/>
<line x1="36.6" y1="241.3" x2="38.8" y2="241.3" stroke="#111" stroke-width="1"/>
<text x="33.9" y="243.9" font-family='"Liberation Serif", serif' font-size="7.6" text-anchor="end" textLength="9.8" lengthAdjust="spacingAndGlyphs" fill="#000"  stroke="#000" stroke-width="0.3">100</text>
<line x1="37.5" y1="232.2" x2="38.8" y2="232.2" stroke="#111" stroke-width="1"/>
<line x1="36.6" y1="223.2" x2="38.8" y2="223.2" stroke="#111" stroke-width="1"/>
<text x="33.9" y="225.8" font-family='"Liberation Serif", serif' font-size="7.6" text-anchor="end" textLength="9.8" lengthAdjust="spacingAndGlyphs" fill="#000"  stroke="#000" stroke-width="0.3">120</text>
<line x1="37.5" y1="214.1" x2="38.8" y2="214.1" stroke="#111" stroke-width="1"/>
<line x1="36.6" y1="205.0" x2="38.8" y2="205.0" stroke="#111" stroke-width="1"/>
<text x="33.9" y="207.6" font-family='"Liberation Serif", serif' font-size="7.6" text-anchor="end" textLength="9.8" lengthAdjust="spacingAndGlyphs" fill="#000"  stroke="#000" stroke-width="0.3">140</text>
<line x1="37.5" y1="196.0" x2="38.8" y2="196.0" stroke="#111" stroke-width="1"/>
<line x1="36.6" y1="186.9" x2="38.8" y2="186.9" stroke="#111" stroke-width="1"/>
<text x="33.9" y="189.5" font-family='"Liberation Serif", serif' font-size="7.6" text-anchor="end" textLength="9.8" lengthAdjust="spacingAndGlyphs" fill="#000"  stroke="#000" stroke-width="0.3">160</text>
<line x1="38.8" y1="332" x2="38.8" y2="334.2" stroke="#111" stroke-width="1"/>
<text x="38.8" y="343.6" font-family='"Liberation Serif", serif' font-size="7.8" font-weight="bold" text-anchor="middle" textLength="9.2" lengthAdjust="spacingAndGlyphs" fill="#000"  stroke="#000" stroke-width="0.15">0.0</text>
<line x1="50.2" y1="332" x2="50.2" y2="333.3" stroke="#111" stroke-width="1"/>
<line x1="61.7" y1="332" x2="61.7" y2="334.2" stroke="#111" stroke-width="1"/>
<text x="61.7" y="343.6" font-family='"Liberation Serif", serif' font-size="7.8" font-weight="bold" text-anchor="middle" textLength="9.2" lengthAdjust="spacingAndGlyphs" fill="#000"  stroke="#000" stroke-width="0.15">0.1</text>
<line x1="73.1" y1="332" x2="73.1" y2="333.3" stroke="#111" stroke-width="1"/>
<line x1="84.5" y1="332" x2="84.5" y2="334.2" stroke="#111" stroke-width="1"/>
<text x="84.5" y="343.6" font-family='"Liberation Serif", serif' font-size="7.8" font-weight="bold" text-anchor="middle" textLength="9.2" lengthAdjust="spacingAndGlyphs" fill="#000"  stroke="#000" stroke-width="0.15">0.2</text>
<line x1="96.0" y1="332" x2="96.0" y2="333.3" stroke="#111" stroke-width="1"/>
<line x1="107.4" y1="332" x2="107.4" y2="334.2" stroke="#111" stroke-width="1"/>
<text x="107.4" y="343.6" font-family='"Liberation Serif", serif' font-size="7.8" font-weight="bold" text-anchor="middle" textLength="9.2" lengthAdjust="spacingAndGlyphs" fill="#000"  stroke="#000" stroke-width="0.15">0.3</text>
<line x1="118.9" y1="332" x2="118.9" y2="333.3" stroke="#111" stroke-width="1"/>
<line x1="130.3" y1="332" x2="130.3" y2="334.2" stroke="#111" stroke-width="1"/>
<text x="130.3" y="343.6" font-family='"Liberation Serif", serif' font-size="7.8" font-weight="bold" text-anchor="middle" textLength="9.2" lengthAdjust="spacingAndGlyphs" fill="#000"  stroke="#000" stroke-width="0.15">0.4</text>
<line x1="141.7" y1="332" x2="141.7" y2="333.3" stroke="#111" stroke-width="1"/>
<line x1="153.2" y1="332" x2="153.2" y2="334.2" stroke="#111" stroke-width="1"/>
<text x="153.2" y="343.6" font-family='"Liberation Serif", serif' font-size="7.8" font-weight="bold" text-anchor="middle" textLength="9.2" lengthAdjust="spacingAndGlyphs" fill="#000"  stroke="#000" stroke-width="0.15">0.5</text>
<line x1="164.6" y1="332" x2="164.6" y2="333.3" stroke="#111" stroke-width="1"/>
<line x1="176.0" y1="332" x2="176.0" y2="334.2" stroke="#111" stroke-width="1"/>
<text x="176.0" y="343.6" font-family='"Liberation Serif", serif' font-size="7.8" font-weight="bold" text-anchor="middle" textLength="9.2" lengthAdjust="spacingAndGlyphs" fill="#000"  stroke="#000" stroke-width="0.15">0.6</text>
<line x1="187.5" y1="332" x2="187.5" y2="333.3" stroke="#111" stroke-width="1"/>
<line x1="198.9" y1="332" x2="198.9" y2="334.2" stroke="#111" stroke-width="1"/>
<text x="198.9" y="343.6" font-family='"Liberation Serif", serif' font-size="7.8" font-weight="bold" text-anchor="middle" textLength="9.2" lengthAdjust="spacingAndGlyphs" fill="#000"  stroke="#000" stroke-width="0.15">0.7</text>
<text x="100.1" y="352.7" font-family='"Liberation Serif", serif' font-size="8.8" font-weight="bold" text-anchor="start" textLength="37.2" lengthAdjust="spacingAndGlyphs" fill="#000"  stroke="#000" stroke-width="0.2">Axial Strain</text>
<text transform="translate(20.7,254.4) rotate(-90) scale(1,0.84)" x="0" y="0" font-family='"Liberation Serif", serif' font-size="8.4" font-weight="bold" text-anchor="middle" textLength="66.2" lengthAdjust="spacingAndGlyphs" stroke="#000" stroke-width="0.2">Axial Stress (GPa)</text>
<text x="1.2" y="195.6" font-family='"Liberation Sans", sans-serif' font-size="13.84" text-anchor="start" textLength="15.7" lengthAdjust="spacingAndGlyphs" fill="#111"  stroke="#111" stroke-width="0.45">(d)</text>
<text x="135.7" y="198.3" font-family='"Liberation Serif", serif' font-size="9.8" font-weight="bold" text-anchor="start" textLength="56.2" lengthAdjust="spacingAndGlyphs" fill="#000"  stroke="#000" stroke-width="0.2">Z_DWBNNT</text>
<line x1="45.3" y1="196.3" x2="62.3" y2="196.3" stroke="#000000" stroke-width="1.5"/>
<text x="63.7" y="199.7" font-family='"Liberation Serif", serif' font-size="8.9" font-weight="bold" text-anchor="start" textLength="9.5" lengthAdjust="spacingAndGlyphs" fill="#000"  stroke="#000" stroke-width="0.25">0K</text>
<line x1="45.3" y1="206.7" x2="62.3" y2="206.7" stroke="#ff0000" stroke-width="1.5"/>
<text x="63.7" y="210.1" font-family='"Liberation Serif", serif' font-size="8.9" font-weight="bold" text-anchor="start" textLength="17.0" lengthAdjust="spacingAndGlyphs" fill="#000"  stroke="#000" stroke-width="0.25">300K</text>
<line x1="45.3" y1="217.2" x2="62.3" y2="217.2" stroke="#0000ff" stroke-width="1.5"/>
<text x="63.7" y="220.6" font-family='"Liberation Serif", serif' font-size="8.9" font-weight="bold" text-anchor="start" textLength="17.0" lengthAdjust="spacingAndGlyphs" fill="#000"  stroke="#000" stroke-width="0.25">500K</text>
<line x1="45.3" y1="227.6" x2="62.3" y2="227.6" stroke="#008000" stroke-width="1.5"/>
<text x="63.7" y="231.0" font-family='"Liberation Serif", serif' font-size="8.9" font-weight="bold" text-anchor="start" textLength="17.0" lengthAdjust="spacingAndGlyphs" fill="#000"  stroke="#000" stroke-width="0.25">700K</text>
<line x1="45.3" y1="238.1" x2="62.3" y2="238.1" stroke="#ff00ff" stroke-width="1.5"/>
<text x="63.7" y="241.5" font-family='"Liberation Serif", serif' font-size="8.9" font-weight="bold" text-anchor="start" textLength="17.0" lengthAdjust="spacingAndGlyphs" fill="#000"  stroke="#000" stroke-width="0.25">900K</text>
<line x1="45.3" y1="248.5" x2="62.3" y2="248.5" stroke="#ff8000" stroke-width="1.5"/>
<text x="63.7" y="251.9" font-family='"Liberation Serif", serif' font-size="8.9" font-weight="bold" text-anchor="start" textLength="20.7" lengthAdjust="spacingAndGlyphs" fill="#000"  stroke="#000" stroke-width="0.25">1100K</text>
<polyline points="38.5,331.3 39.4,331.0 41.5,325.0 44.5,317.6 47.3,314.2 49.5,309.7 55.1,300.6 55.8,299.4 56.4,298.3 57.1,297.2 57.9,295.8 58.8,294.3 59.8,292.7 60.9,291.0 62.0,289.3 63.2,287.6 64.5,285.7 65.7,283.9 66.9,282.3 67.9,281.1 68.7,280.1 69.7,279.0 70.9,277.5 72.4,275.7 74.0,273.6 75.9,271.4 77.8,269.0 80.0,266.5 82.3,263.8 84.6,261.1 86.8,258.6 89.3,254.3 90.3,257.5 91.4,265.4 92.7,275.6" fill="none" stroke="#ff8000" stroke-width="1.2" stroke-linejoin="round" stroke-linecap="round"/>
<polyline points="39.9,331.9 40.3,330.9 40.9,329.4 41.6,327.8 42.4,326.1 43.1,324.5 43.9,322.7 44.8,320.9 45.6,319.1 46.4,317.4 47.1,315.7 47.9,314.0 48.7,312.3 49.4,310.6 50.1,309.0 50.9,307.4 51.6,305.8 52.3,304.3 53.0,302.9 53.6,301.5 54.3,300.2 55.0,299.0 55.6,297.9 56.3,296.7 57.1,295.4 58.0,293.9 59.0,292.2 60.1,290.5 61.2,288.8 62.5,287.1 63.7,285.2 65.0,283.4 66.2,281.8 67.2,280.5 68.0,279.5 69.0,278.4 70.2,277.0 71.7,275.1 73.3,273.1 75.2,270.8 77.2,268.5 79.3,265.9 81.6,263.2 83.9,260.5 86.1,258.0 88.1,255.9 90.0,254.0 92.0,252.2 94.2,250.4 96.9,248.4 99.9,246.3 102.8,244.4 104.5,241.7 105.7,243.4 107.4,251.3 109.8,264.8" fill="none" stroke="#ff00ff" stroke-width="1.2" stroke-linejoin="round" stroke-linecap="round"/>
<polyline points="37.7,330.9 38.1,329.9 38.7,328.5 39.4,326.8 40.2,325.1 40.9,323.5 41.7,321.7 42.6,319.9 43.4,318.1 44.2,316.4 45.0,314.7 45.7,313.0 46.5,311.3 47.2,309.7 47.9,308.0 48.7,306.4 49.4,304.8 50.1,303.3 50.8,301.9 51.5,300.4 52.2,299.1 52.9,297.8 53.5,296.7 54.2,295.5 55.0,294.1 56.0,292.6 57.0,291.0 58.1,289.2 59.3,287.5 60.5,285.7 61.8,283.8 63.1,282.0 64.3,280.4 65.3,279.0 66.2,278.0 67.1,276.8 68.3,275.4 69.8,273.6 71.5,271.5 73.3,269.3 75.3,266.9 77.4,264.4 79.7,261.6 82.1,258.9 84.3,256.4 86.4,254.2 88.4,252.3 90.4,250.4 92.7,248.5 95.5,246.4 98.6,244.3 101.5,242.4 104.0,240.7 105.9,239.6 107.3,238.9 108.5,238.3 111.3,235.5 111.9,237.8 112.4,250.2 113.2,262.0 114.0,263.5" fill="none" stroke="#008000" stroke-width="1.2" stroke-linejoin="round" stroke-linecap="round"/>
<polyline points="39.2,331.6 39.7,330.6 40.3,329.2 41.0,327.5 41.7,325.8 42.5,324.2 43.3,322.4 44.1,320.6 44.9,318.8 45.7,317.1 46.5,315.4 47.3,313.7 48.0,312.0 48.8,310.4 49.5,308.7 50.2,307.1 50.9,305.5 51.6,304.0 52.3,302.6 53.0,301.2 53.7,299.9 54.4,298.6 55.0,297.5 55.7,296.3 56.5,295.0 57.4,293.5 58.4,291.9 59.5,290.2 60.7,288.4 61.9,286.7 63.2,284.8 64.5,283.0 65.6,281.4 66.6,280.1 67.5,279.0 68.4,277.9 69.6,276.5 71.1,274.7 72.8,272.6 74.7,270.4 76.6,268.0 78.7,265.5 81.0,262.7 83.4,260.0 85.6,257.5 87.6,255.4 89.6,253.5 91.6,251.7 93.8,249.8 96.5,247.8 99.5,245.7 102.5,243.8 104.9,242.2 106.7,241.1 108.1,240.4 109.3,239.7 110.6,239.0 112.0,236.4 112.7,235.6 113.6,234.4 114.8,233.2 116.0,232.0 117.4,231.0 118.9,230.0 120.5,229.1 122.0,228.2 123.5,227.2 125.1,226.3 126.4,225.4 127.4,224.8 128.8,226.9 130.2,238.2 130.9,253.0 131.4,254.0" fill="none" stroke="#0000ff" stroke-width="1.2" stroke-linejoin="round" stroke-linecap="round"/>
<polyline points="38.5,331.3 40.0,321.0 42.3,314.4 44.7,312.9 46.2,311.3 49.0,305.5 52.1,299.0 52.8,297.8 53.4,296.6 54.1,295.4 54.9,294.1 55.9,292.6 56.9,290.9 58.0,289.2 59.2,287.4 60.4,285.6 61.7,283.8 63.0,281.9 64.2,280.3 65.2,279.0 66.1,277.9 67.0,276.8 68.2,275.4 69.7,273.5 71.4,271.5 73.3,269.2 75.2,266.9 77.4,264.3 79.7,261.6 82.0,258.8 84.3,256.3 86.3,254.2 88.3,252.2 90.4,250.3 92.7,248.4 95.4,246.4 98.5,244.2 101.5,242.3 104.0,240.7 105.8,239.5 107.2,238.8 108.2,238.5 108.5,238.2 108.8,237.9 109.4,237.4 110.2,236.6 111.3,235.4 112.7,234.0 114.3,232.4 115.8,231.0 117.2,229.7 118.6,228.4 120.2,227.2 122.0,226.0 124.1,224.8 126.6,223.5 129.1,222.4 131.6,221.3 134.3,220.3 137.2,219.3 139.9,218.5 141.7,217.9 143.0,221.3 144.2,232.3 146.8,244.1" fill="none" stroke="#ff0000" stroke-width="1.2" stroke-linejoin="round" stroke-linecap="round"/>
<polyline points="38.5,331.3 38.9,330.3 39.6,328.8 40.3,327.2 41.0,325.5 41.8,323.8 42.6,322.1 43.4,320.3 44.2,318.5 45.0,316.8 45.8,315.1 46.5,313.4 47.3,311.7 48.0,310.0 48.8,308.4 49.5,306.8 50.2,305.2 50.9,303.7 51.6,302.2 52.3,300.8 53.0,299.5 53.7,298.3 54.3,297.1 55.0,295.9 55.8,294.6 56.7,293.1 57.8,291.4 58.9,289.7 60.0,288.0 61.2,286.2 62.5,284.3 63.8,282.5 65.0,280.9 66.0,279.6 66.9,278.5 67.8,277.4 69.0,276.0 70.5,274.2 72.2,272.1 74.0,269.8 76.0,267.5 78.1,265.0 80.4,262.2 82.8,259.5 85.0,257.0 87.1,254.9 89.0,252.9 91.0,251.1 93.3,249.2 96.0,247.2 99.1,245.1 102.0,243.1 104.5,241.5 106.3,240.4 107.7,239.7 108.9,239.0 110.2,238.3 111.6,237.4 113.0,236.4 114.4,235.4 115.8,234.4 117.3,233.5 118.7,232.5 120.3,231.6 122.0,230.5 123.8,229.3 125.8,228.1 127.9,226.8 130.2,225.5 132.9,224.1 135.8,222.6 138.8,221.1 141.5,219.9 143.8,219.0 145.8,218.3 147.8,217.6 150.1,216.8 152.9,215.8 156.1,214.8 159.2,213.7 162.0,212.8 164.5,212.0 166.9,211.3 169.0,210.6 170.4,210.2 176.3,207.7 176.8,215.4 177.5,223.0 180.6,227.2 186.0,233.1" fill="none" stroke="#000000" stroke-width="1.2" stroke-linejoin="round" stroke-linecap="round"/>
<polyline points="92.6,248.3 95.3,246.2 98.4,244.1 101.4,242.1 103.9,240.5 105.7,239.4 107.1,238.6 108.3,238.0 111.3,235.5 111.9,237.8 112.4,250.2" fill="none" stroke="#008000" stroke-width="1.2" stroke-linejoin="round" stroke-linecap="round"/>
<rect x="138.2" y="275.9" width="49.4" height="49.1" fill="#fff" stroke="#555" stroke-width="0.9"/>
<polyline points="148.0,325.0 150.5,319.7 153.1,315.0 155.2,313.3 157.3,312.1 159.4,309.5 162.4,306.2 165.0,304.5 167.6,303.6 171.0,299.4 175.2,294.3 178.6,290.1 180.3,287.5 182.8,284.1 185.4,282.5 187.4,280.8" fill="none" stroke="#ff8000" stroke-width="1.0" stroke-linejoin="round" stroke-linecap="round"/>
<polyline points="144.6,325.0 147.2,324.8 149.7,319.7 153.9,313.3 157.7,310.4 161.5,305.2 166.8,297.7 171.0,294.3 175.2,290.5 179.4,285.8 182.8,282.5 184.5,279.1 185.4,277.0 186.0,276.1" fill="none" stroke="#ff00ff" stroke-width="1.0" stroke-linejoin="round" stroke-linecap="round"/>
<polyline points="138.2,325.0 139.1,325.0 143.8,321.0 145.5,321.4 147.2,318.0 152.2,312.5 158.2,306.2 161.5,301.0 165.1,296.5 168.5,293.0 171.0,292.2 172.7,290.5 173.5,288.4 176.9,284.1 182.6,276.1" fill="none" stroke="#0000ff" stroke-width="1.0" stroke-linejoin="round" stroke-linecap="round"/>
<polyline points="138.2,324.8 140.4,323.1 160.0,299.4 166.8,292.2 170.1,289.2 173.5,286.7 176.9,282.5 181.4,276.1" fill="none" stroke="#000000" stroke-width="1.0" stroke-linejoin="round" stroke-linecap="round"/>
<polyline points="138.2,322.6 143.8,317.2 148.0,312.5 152.2,307.8 156.5,301.9 160.0,297.8 163.4,294.3 166.8,292.2 168.5,288.4 171.8,285.0 175.2,280.8 179.2,276.1" fill="none" stroke="#008000" stroke-width="1.0" stroke-linejoin="round" stroke-linecap="round"/>
<polyline points="138.2,318.4 142.1,312.5 145.5,310.4 149.7,306.2 153.9,301.1 157.7,296.6 160.0,294.3 164.2,290.1 168.5,285.0 171.8,281.6 176.3,276.1" fill="none" stroke="#ff0000" stroke-width="1.0" stroke-linejoin="round" stroke-linecap="round"/>
<rect x="138.2" y="275.9" width="49.4" height="49.1" fill="none" stroke="#555" stroke-width="0.9"/>
<line x1="138.2" y1="325" x2="138.2" y2="326.0" stroke="#555" stroke-width="0.6"/>
<text x="138.2" y="329.9" font-family='"Liberation Serif", serif' font-size="3.3" font-weight="bold" text-anchor="middle" textLength="6.3" lengthAdjust="spacingAndGlyphs" fill="#222"  stroke="#222" stroke-width="0.15">0.05</text>
<line x1="148.1" y1="325" x2="148.1" y2="326.0" stroke="#555" stroke-width="0.6"/>
<text x="148.1" y="329.9" font-family='"Liberation Serif", serif' font-size="3.3" font-weight="bold" text-anchor="middle" textLength="6.3" lengthAdjust="spacingAndGlyphs" fill="#222"  stroke="#222" stroke-width="0.15">0.06</text>
<line x1="158.0" y1="325" x2="158.0" y2="326.0" stroke="#555" stroke-width="0.6"/>
<text x="158.0" y="329.9" font-family='"Liberation Serif", serif' font-size="3.3" font-weight="bold" text-anchor="middle" textLength="6.3" lengthAdjust="spacingAndGlyphs" fill="#222"  stroke="#222" stroke-width="0.15">0.07</text>
<line x1="167.8" y1="325" x2="167.8" y2="326.0" stroke="#555" stroke-width="0.6"/>
<text x="167.8" y="329.9" font-family='"Liberation Serif", serif' font-size="3.3" font-weight="bold" text-anchor="middle" textLength="6.3" lengthAdjust="spacingAndGlyphs" fill="#222"  stroke="#222" stroke-width="0.15">0.08</text>
<line x1="177.7" y1="325" x2="177.7" y2="326.0" stroke="#555" stroke-width="0.6"/>
<text x="177.7" y="329.9" font-family='"Liberation Serif", serif' font-size="3.3" font-weight="bold" text-anchor="middle" textLength="6.3" lengthAdjust="spacingAndGlyphs" fill="#222"  stroke="#222" stroke-width="0.15">0.09</text>
<line x1="187.6" y1="325" x2="187.6" y2="326.0" stroke="#555" stroke-width="0.6"/>
<text x="187.6" y="329.9" font-family='"Liberation Serif", serif' font-size="3.3" font-weight="bold" text-anchor="middle" textLength="6.3" lengthAdjust="spacingAndGlyphs" fill="#222"  stroke="#222" stroke-width="0.15">0.10</text>
<line x1="137.2" y1="325.0" x2="138.2" y2="325.0" stroke="#333" stroke-width="0.7"/>
<text transform="translate(136.2,325.0) rotate(-90)" font-family='"Liberation Serif", serif' font-size="3.4" font-weight="bold" text-anchor="middle" textLength="3.6" lengthAdjust="spacingAndGlyphs" fill="#222" stroke="#222" stroke-width="0.15">24</text>
<line x1="137.2" y1="320.5" x2="138.2" y2="320.5" stroke="#333" stroke-width="0.7"/>
<text transform="translate(136.2,320.5) rotate(-90)" font-family='"Liberation Serif", serif' font-size="3.4" font-weight="bold" text-anchor="middle" textLength="3.6" lengthAdjust="spacingAndGlyphs" fill="#222" stroke="#222" stroke-width="0.15">26</text>
<line x1="137.2" y1="316.1" x2="138.2" y2="316.1" stroke="#333" stroke-width="0.7"/>
<text transform="translate(136.2,316.1) rotate(-90)" font-family='"Liberation Serif", serif' font-size="3.4" font-weight="bold" text-anchor="middle" textLength="3.6" lengthAdjust="spacingAndGlyphs" fill="#222" stroke="#222" stroke-width="0.15">28</text>
<line x1="137.2" y1="311.6" x2="138.2" y2="311.6" stroke="#333" stroke-width="0.7"/>
<text transform="translate(136.2,311.6) rotate(-90)" font-family='"Liberation Serif", serif' font-size="3.4" font-weight="bold" text-anchor="middle" textLength="3.6" lengthAdjust="spacingAndGlyphs" fill="#222" stroke="#222" stroke-width="0.15">30</text>
<line x1="137.2" y1="307.1" x2="138.2" y2="307.1" stroke="#333" stroke-width="0.7"/>
<text transform="translate(136.2,307.1) rotate(-90)" font-family='"Liberation Serif", serif' font-size="3.4" font-weight="bold" text-anchor="middle" textLength="3.6" lengthAdjust="spacingAndGlyphs" fill="#222" stroke="#222" stroke-width="0.15">32</text>
<line x1="137.2" y1="302.7" x2="138.2" y2="302.7" stroke="#333" stroke-width="0.7"/>
<text transform="translate(136.2,302.7) rotate(-90)" font-family='"Liberation Serif", serif' font-size="3.4" font-weight="bold" text-anchor="middle" textLength="3.6" lengthAdjust="spacingAndGlyphs" fill="#222" stroke="#222" stroke-width="0.15">34</text>
<line x1="137.2" y1="298.2" x2="138.2" y2="298.2" stroke="#333" stroke-width="0.7"/>
<text transform="translate(136.2,298.2) rotate(-90)" font-family='"Liberation Serif", serif' font-size="3.4" font-weight="bold" text-anchor="middle" textLength="3.6" lengthAdjust="spacingAndGlyphs" fill="#222" stroke="#222" stroke-width="0.15">36</text>
<line x1="137.2" y1="293.8" x2="138.2" y2="293.8" stroke="#333" stroke-width="0.7"/>
<text transform="translate(136.2,293.8) rotate(-90)" font-family='"Liberation Serif", serif' font-size="3.4" font-weight="bold" text-anchor="middle" textLength="3.6" lengthAdjust="spacingAndGlyphs" fill="#222" stroke="#222" stroke-width="0.15">38</text>
<line x1="137.2" y1="289.3" x2="138.2" y2="289.3" stroke="#333" stroke-width="0.7"/>
<text transform="translate(136.2,289.3) rotate(-90)" font-family='"Liberation Serif", serif' font-size="3.4" font-weight="bold" text-anchor="middle" textLength="3.6" lengthAdjust="spacingAndGlyphs" fill="#222" stroke="#222" stroke-width="0.15">40</text>
<line x1="137.2" y1="284.8" x2="138.2" y2="284.8" stroke="#333" stroke-width="0.7"/>
<text transform="translate(136.2,284.8) rotate(-90)" font-family='"Liberation Serif", serif' font-size="3.4" font-weight="bold" text-anchor="middle" textLength="3.6" lengthAdjust="spacingAndGlyphs" fill="#222" stroke="#222" stroke-width="0.15">42</text>
<line x1="137.2" y1="280.4" x2="138.2" y2="280.4" stroke="#333" stroke-width="0.7"/>
<text transform="translate(136.2,280.4) rotate(-90)" font-family='"Liberation Serif", serif' font-size="3.4" font-weight="bold" text-anchor="middle" textLength="3.6" lengthAdjust="spacingAndGlyphs" fill="#222" stroke="#222" stroke-width="0.15">44</text>
<line x1="137.2" y1="275.9" x2="138.2" y2="275.9" stroke="#333" stroke-width="0.7"/>
<text transform="translate(136.2,275.9) rotate(-90)" font-family='"Liberation Serif", serif' font-size="3.4" font-weight="bold" text-anchor="middle" textLength="3.6" lengthAdjust="spacingAndGlyphs" fill="#222" stroke="#222" stroke-width="0.15">46</text>
<rect x="239.4" y="187.5" width="163.0" height="145.1" fill="none" stroke="#111" stroke-width="1.1"/>
<line x1="237.2" y1="332.6" x2="239.4" y2="332.6" stroke="#111" stroke-width="1"/>
<text x="234.5" y="335.2" font-family='"Liberation Serif", serif' font-size="7.6" text-anchor="end" textLength="3.2" lengthAdjust="spacingAndGlyphs" fill="#000"  stroke="#000" stroke-width="0.3">0</text>
<line x1="238.1" y1="322.2" x2="239.4" y2="322.2" stroke="#111" stroke-width="1"/>
<line x1="237.2" y1="311.9" x2="239.4" y2="311.9" stroke="#111" stroke-width="1"/>
<text x="234.5" y="314.5" font-family='"Liberation Serif", serif' font-size="7.6" text-anchor="end" textLength="6.5" lengthAdjust="spacingAndGlyphs" fill="#000"  stroke="#000" stroke-width="0.3">20</text>
<line x1="238.1" y1="301.5" x2="239.4" y2="301.5" stroke="#111" stroke-width="1"/>
<line x1="237.2" y1="291.1" x2="239.4" y2="291.1" stroke="#111" stroke-width="1"/>
<text x="234.5" y="293.7" font-family='"Liberation Serif", serif' font-size="7.6" text-anchor="end" textLength="6.5" lengthAdjust="spacingAndGlyphs" fill="#000"  stroke="#000" stroke-width="0.3">40</text>
<line x1="238.1" y1="280.8" x2="239.4" y2="280.8" stroke="#111" stroke-width="1"/>
<line x1="237.2" y1="270.4" x2="239.4" y2="270.4" stroke="#111" stroke-width="1"/>
<text x="234.5" y="273.0" font-family='"Liberation Serif", serif' font-size="7.6" text-anchor="end" textLength="6.5" lengthAdjust="spacingAndGlyphs" fill="#000"  stroke="#000" stroke-width="0.3">60</text>
<line x1="238.1" y1="260.1" x2="239.4" y2="260.1" stroke="#111" stroke-width="1"/>
<line x1="237.2" y1="249.7" x2="239.4" y2="249.7" stroke="#111" stroke-width="1"/>
<text x="234.5" y="252.3" font-family='"Liberation Serif", serif' font-size="7.6" text-anchor="end" textLength="6.5" lengthAdjust="spacingAndGlyphs" fill="#000"  stroke="#000" stroke-width="0.3">80</text>
<line x1="238.1" y1="239.3" x2="239.4" y2="239.3" stroke="#111" stroke-width="1"/>
<line x1="237.2" y1="229.0" x2="239.4" y2="229.0" stroke="#111" stroke-width="1"/>
<text x="234.5" y="231.6" font-family='"Liberation Serif", serif' font-size="7.6" text-anchor="end" textLength="9.8" lengthAdjust="spacingAndGlyphs" fill="#000"  stroke="#000" stroke-width="0.3">100</text>
<line x1="238.1" y1="218.6" x2="239.4" y2="218.6" stroke="#111" stroke-width="1"/>
<line x1="237.2" y1="208.2" x2="239.4" y2="208.2" stroke="#111" stroke-width="1"/>
<text x="234.5" y="210.8" font-family='"Liberation Serif", serif' font-size="7.6" text-anchor="end" textLength="9.8" lengthAdjust="spacingAndGlyphs" fill="#000"  stroke="#000" stroke-width="0.3">120</text>
<line x1="238.1" y1="197.9" x2="239.4" y2="197.9" stroke="#111" stroke-width="1"/>
<line x1="237.2" y1="187.5" x2="239.4" y2="187.5" stroke="#111" stroke-width="1"/>
<text x="234.5" y="190.1" font-family='"Liberation Serif", serif' font-size="7.6" text-anchor="end" textLength="9.8" lengthAdjust="spacingAndGlyphs" fill="#000"  stroke="#000" stroke-width="0.3">140</text>
<line x1="239.4" y1="332.6" x2="239.4" y2="334.8" stroke="#111" stroke-width="1"/>
<text x="239.4" y="344.1" font-family='"Liberation Serif", serif' font-size="7.8" font-weight="bold" text-anchor="middle" textLength="9.2" lengthAdjust="spacingAndGlyphs" fill="#000"  stroke="#000" stroke-width="0.15">0.0</text>
<line x1="251.0" y1="332.6" x2="251.0" y2="333.9" stroke="#111" stroke-width="1"/>
<line x1="262.7" y1="332.6" x2="262.7" y2="334.8" stroke="#111" stroke-width="1"/>
<text x="262.7" y="344.1" font-family='"Liberation Serif", serif' font-size="7.8" font-weight="bold" text-anchor="middle" textLength="9.2" lengthAdjust="spacingAndGlyphs" fill="#000"  stroke="#000" stroke-width="0.15">0.1</text>
<line x1="274.3" y1="332.6" x2="274.3" y2="333.9" stroke="#111" stroke-width="1"/>
<line x1="286.0" y1="332.6" x2="286.0" y2="334.8" stroke="#111" stroke-width="1"/>
<text x="286.0" y="344.1" font-family='"Liberation Serif", serif' font-size="7.8" font-weight="bold" text-anchor="middle" textLength="9.2" lengthAdjust="spacingAndGlyphs" fill="#000"  stroke="#000" stroke-width="0.15">0.2</text>
<line x1="297.6" y1="332.6" x2="297.6" y2="333.9" stroke="#111" stroke-width="1"/>
<line x1="309.3" y1="332.6" x2="309.3" y2="334.8" stroke="#111" stroke-width="1"/>
<text x="309.3" y="344.1" font-family='"Liberation Serif", serif' font-size="7.8" font-weight="bold" text-anchor="middle" textLength="9.2" lengthAdjust="spacingAndGlyphs" fill="#000"  stroke="#000" stroke-width="0.15">0.3</text>
<line x1="320.9" y1="332.6" x2="320.9" y2="333.9" stroke="#111" stroke-width="1"/>
<line x1="332.5" y1="332.6" x2="332.5" y2="334.8" stroke="#111" stroke-width="1"/>
<text x="332.5" y="344.1" font-family='"Liberation Serif", serif' font-size="7.8" font-weight="bold" text-anchor="middle" textLength="9.2" lengthAdjust="spacingAndGlyphs" fill="#000"  stroke="#000" stroke-width="0.15">0.4</text>
<line x1="344.2" y1="332.6" x2="344.2" y2="333.9" stroke="#111" stroke-width="1"/>
<line x1="355.8" y1="332.6" x2="355.8" y2="334.8" stroke="#111" stroke-width="1"/>
<text x="355.8" y="344.1" font-family='"Liberation Serif", serif' font-size="7.8" font-weight="bold" text-anchor="middle" textLength="9.2" lengthAdjust="spacingAndGlyphs" fill="#000"  stroke="#000" stroke-width="0.15">0.5</text>
<line x1="367.5" y1="332.6" x2="367.5" y2="333.9" stroke="#111" stroke-width="1"/>
<line x1="379.1" y1="332.6" x2="379.1" y2="334.8" stroke="#111" stroke-width="1"/>
<text x="379.1" y="344.1" font-family='"Liberation Serif", serif' font-size="7.8" font-weight="bold" text-anchor="middle" textLength="9.2" lengthAdjust="spacingAndGlyphs" fill="#000"  stroke="#000" stroke-width="0.15">0.6</text>
<line x1="390.8" y1="332.6" x2="390.8" y2="333.9" stroke="#111" stroke-width="1"/>
<line x1="402.4" y1="332.6" x2="402.4" y2="334.8" stroke="#111" stroke-width="1"/>
<text x="402.4" y="344.1" font-family='"Liberation Serif", serif' font-size="7.8" font-weight="bold" text-anchor="middle" textLength="9.2" lengthAdjust="spacingAndGlyphs" fill="#000"  stroke="#000" stroke-width="0.15">0.7</text>
<text x="301.4" y="352.2" font-family='"Liberation Serif", serif' font-size="8.8" font-weight="bold" text-anchor="start" textLength="38.5" lengthAdjust="spacingAndGlyphs" fill="#000"  stroke="#000" stroke-width="0.2">Axial Strain</text>
<text transform="translate(221.6,260.0) rotate(-90) scale(1,0.84)" x="0" y="0" font-family='"Liberation Serif", serif' font-size="8.4" font-weight="bold" text-anchor="middle" textLength="66.2" lengthAdjust="spacingAndGlyphs" stroke="#000" stroke-width="0.2">Axial Stress (GPa)</text>
<text x="202.0" y="203.1" font-family='"Liberation Sans", sans-serif' font-size="13.52" text-anchor="start" textLength="15.7" lengthAdjust="spacingAndGlyphs" fill="#111"  stroke="#111" stroke-width="0.45">(e)</text>
<text x="336.1" y="201.2" font-family='"Liberation Serif", serif' font-size="9.8" font-weight="bold" text-anchor="start" textLength="54.7" lengthAdjust="spacingAndGlyphs" fill="#000"  stroke="#000" stroke-width="0.2">Z_TWBNNT</text>
<line x1="245.9" y1="195.9" x2="262.7" y2="195.9" stroke="#000000" stroke-width="1.5"/>
<text x="264.2" y="199.3" font-family='"Liberation Serif", serif' font-size="8.9" font-weight="bold" text-anchor="start" textLength="9.6" lengthAdjust="spacingAndGlyphs" fill="#000"  stroke="#000" stroke-width="0.25">0K</text>
<line x1="245.9" y1="206.3" x2="262.7" y2="206.3" stroke="#ff0000" stroke-width="1.5"/>
<text x="264.2" y="209.7" font-family='"Liberation Serif", serif' font-size="8.9" font-weight="bold" text-anchor="start" textLength="17.1" lengthAdjust="spacingAndGlyphs" fill="#000"  stroke="#000" stroke-width="0.25">300K</text>
<line x1="245.9" y1="216.6" x2="262.7" y2="216.6" stroke="#0000ff" stroke-width="1.5"/>
<text x="264.2" y="220.0" font-family='"Liberation Serif", serif' font-size="8.9" font-weight="bold" text-anchor="start" textLength="17.1" lengthAdjust="spacingAndGlyphs" fill="#000"  stroke="#000" stroke-width="0.25">500K</text>
<line x1="245.9" y1="227.0" x2="262.7" y2="227.0" stroke="#008000" stroke-width="1.5"/>
<text x="264.2" y="230.4" font-family='"Liberation Serif", serif' font-size="8.9" font-weight="bold" text-anchor="start" textLength="17.1" lengthAdjust="spacingAndGlyphs" fill="#000"  stroke="#000" stroke-width="0.25">700K</text>
<line x1="245.9" y1="237.3" x2="262.7" y2="237.3" stroke="#ff00ff" stroke-width="1.5"/>
<text x="264.2" y="240.7" font-family='"Liberation Serif", serif' font-size="8.9" font-weight="bold" text-anchor="start" textLength="17.1" lengthAdjust="spacingAndGlyphs" fill="#000"  stroke="#000" stroke-width="0.25">900K</text>
<line x1="245.9" y1="247.7" x2="262.7" y2="247.7" stroke="#d9a420" stroke-width="1.5"/>
<text x="264.2" y="251.1" font-family='"Liberation Serif", serif' font-size="8.9" font-weight="bold" text-anchor="start" textLength="20.8" lengthAdjust="spacingAndGlyphs" fill="#000"  stroke="#000" stroke-width="0.25">1100K</text>
<polyline points="239.8,332.3 240.1,331.0 240.6,329.2 241.2,327.1 241.9,325.1 242.5,323.2 243.2,321.2 244.0,319.1 244.9,317.2 245.9,315.3 247.1,313.4 248.4,311.5 249.5,309.7 250.6,308.0 251.5,306.5 252.4,304.9 253.4,303.2 254.2,301.6 254.9,300.0 255.9,298.2 257.3,295.7 259.5,292.2 262.1,288.1 264.9,283.7 267.7,279.7 270.6,276.2 273.6,272.7 276.5,269.5 279.0,266.5 281.0,263.8 282.7,261.4 284.3,259.1 286.0,256.8 288.0,254.4 290.0,252.0 292.2,249.7 294.5,247.6 297.3,245.8 300.3,244.1 303.2,242.7 305.7,241.4 307.5,240.3 308.9,239.5 310.1,238.7 311.4,237.9 312.8,237.1 314.2,236.2 315.6,235.4 317.0,234.6 318.3,233.9 319.4,233.4 320.9,232.7 323.2,231.7 326.5,230.2 330.5,228.3 334.8,226.3 339.1,224.4 343.2,222.4 347.4,220.5 351.5,218.6 355.3,217.0 358.6,215.7 361.6,214.6 364.5,213.6 367.0,212.2 372.5,210.6 378.8,208.7 381.3,206.1 382.2,208.6 383.0,217.0 385.6,223.8 390.6,232.3" fill="none" stroke="#000000" stroke-width="1.2" stroke-linejoin="round" stroke-linecap="round"/>
<polyline points="240.5,332.5 240.8,331.2 241.3,329.4 241.9,327.3 242.5,325.3 243.2,323.4 243.9,321.4 244.6,319.4 245.5,317.5 246.5,315.6 247.7,313.8 249.0,311.9 250.1,310.1 251.2,308.4 252.1,306.8 253.0,305.2 254.0,303.5 254.8,301.9 255.6,300.3 256.5,298.5 257.9,296.1 260.1,292.6 262.7,288.5 265.5,284.1 268.3,280.2 271.1,276.6 274.1,273.2 277.0,269.9 279.6,266.9 281.6,264.2 283.3,261.8 284.8,259.5 286.6,257.3 288.5,254.9 290.6,252.5 292.7,250.2 295.0,248.2 297.6,246.4 299.9,245.8 302.2,246.4 303.8,249.8 305.5,258.8 306.1,265.0 307.4,277.0" fill="none" stroke="#ff00ff" stroke-width="1.2" stroke-linejoin="round" stroke-linecap="round"/>
<polyline points="239.4,322.6 242.2,319.2 244.9,317.2 245.9,315.3 247.1,313.4 248.4,311.5 249.5,309.7 250.6,308.0 251.5,306.5 252.4,304.9 253.4,303.2 254.2,301.6 254.9,300.0 255.9,298.2 257.3,295.7 259.5,292.2 262.1,288.1 264.9,283.7 267.7,279.7 270.6,276.2 273.6,272.7 276.5,269.5 279.0,266.5 281.0,263.8 282.7,261.4 284.3,259.1 286.0,256.8 288.0,254.4 290.0,252.0 292.2,249.7 294.5,247.6 297.3,245.8 300.3,244.1 303.2,242.7 305.7,241.4 307.5,240.3 308.9,239.5 310.1,238.7 311.4,237.9 312.8,237.1 313.0,235.8 314.3,235.0 316.2,233.8 318.4,232.5 320.4,231.3 322.5,230.2 324.7,229.0 326.6,227.9 328.0,227.2 331.3,227.0 333.0,229.6 334.2,242.3 334.6,256.9 335.5,269.6" fill="none" stroke="#0000ff" stroke-width="1.2" stroke-linejoin="round" stroke-linecap="round"/>
<polyline points="239.4,332.2 239.8,330.9 240.3,329.1 240.9,327.0 241.5,325.0 242.1,323.0 242.8,321.0 243.6,319.0 244.5,317.0 245.6,315.1 246.8,313.2 248.0,311.3 249.2,309.5 250.2,307.8 251.1,306.2 252.1,304.7 253.0,303.0 253.8,301.4 254.6,299.8 255.5,298.0 257.0,295.5 259.1,292.0 261.7,287.9 264.6,283.5 267.4,279.5 270.3,275.9 273.3,272.4 276.2,269.2 278.7,266.2 280.7,263.5 282.4,261.1 283.9,258.9 285.7,256.6 287.7,254.2 289.7,251.7 291.9,249.4 294.3,247.3 297.0,245.4 300.1,243.8 303.0,242.3 305.5,241.0 307.3,239.9 308.7,239.1 310.6,238.0 311.2,240.8 311.7,253.2 312.5,265.0 312.7,274.6" fill="none" stroke="#008000" stroke-width="1.2" stroke-linejoin="round" stroke-linecap="round"/>
<polyline points="238.9,332.1 239.3,330.8 239.8,329.0 240.4,326.9 241.0,324.8 241.7,322.9 242.4,320.8 243.1,318.8 244.1,316.8 245.1,314.8 246.4,312.9 247.6,311.0 248.8,309.2 249.8,307.6 250.7,306.0 251.6,304.4 252.6,302.8 253.4,301.2 254.1,299.6 255.1,297.8 256.6,295.2 258.7,291.8 261.3,287.6 264.2,283.2 267.0,279.2 269.9,275.6 272.9,272.1 275.8,268.9 278.3,265.9 280.3,263.2 282.0,260.9 283.5,258.6 286.5,255.6 287.7,258.4 288.8,271.9 289.9,285.4" fill="none" stroke="#d9a420" stroke-width="1.2" stroke-linejoin="round" stroke-linecap="round"/>
<polyline points="238.6,332.0 239.0,330.7 239.5,328.9 240.1,326.8 240.7,324.8 241.4,322.8 242.1,320.7 242.9,318.7 243.8,316.6 244.9,314.7 246.1,312.7 247.4,310.9 248.5,309.1 249.5,307.4 250.5,305.8 251.4,304.3 252.3,302.6 253.1,301.0 253.9,299.5 254.8,297.6 256.3,295.1 258.4,291.6 261.1,287.4 263.9,283.1 266.8,279.0 269.6,275.4 272.7,271.9 275.6,268.7 278.1,265.7 280.1,263.1 281.7,260.7 283.3,258.4 285.1,256.1 287.1,253.7 289.1,251.2 291.4,248.8 293.8,246.7 296.6,244.8 299.7,243.1 302.7,241.6 305.1,240.3 306.9,239.3 308.3,238.4 309.5,237.7 310.8,236.9 313.2,234.4 314.5,233.5 316.4,232.3 318.5,230.8 320.4,229.4 322.1,228.0 323.7,226.4 325.3,224.9 327.1,223.7 329.1,222.8 331.1,222.1 333.3,221.6 335.6,221.1 338.2,220.7 341.2,220.3 343.8,220.1 345.7,219.9 349.9,221.1 352.5,223.7 353.3,233.8 354.2,250.0 354.9,264.5" fill="none" stroke="#ff0000" stroke-width="1.2" stroke-linejoin="round" stroke-linecap="round"/>
<rect x="338.9" y="271.8" width="51.3" height="54.2" fill="#fff" stroke="#555" stroke-width="0.9"/>
<polyline points="345.8,326.0 355.6,312.3 358.6,311.3 361.6,310.4 364.5,306.4 369.4,302.5 379.3,290.6 390.2,277.8" fill="none" stroke="#ff00ff" stroke-width="1.0" stroke-linejoin="round" stroke-linecap="round"/>
<polyline points="342.8,326.0 390.2,274.9" fill="none" stroke="#0000ff" stroke-width="1.0" stroke-linejoin="round" stroke-linecap="round"/>
<polyline points="341.8,326.0 355.6,304.4 369.4,290.6 389.2,271.8" fill="none" stroke="#008000" stroke-width="1.0" stroke-linejoin="round" stroke-linecap="round"/>
<polyline points="341.0,326.0 364.0,300.0 388.0,271.8" fill="none" stroke="#000000" stroke-width="1.0" stroke-linejoin="round" stroke-linecap="round"/>
<polyline points="339.5,326.0 349.7,312.3 364.5,296.6 373.4,286.7 386.2,271.8" fill="none" stroke="#d9a420" stroke-width="1.0" stroke-linejoin="round" stroke-linecap="round"/>
<polyline points="338.9,323.2 345.8,314.3 361.6,298.5 372.4,284.7 383.2,271.8" fill="none" stroke="#ff0000" stroke-width="1.0" stroke-linejoin="round" stroke-linecap="round"/>
<rect x="338.9" y="271.8" width="51.3" height="54.2" fill="none" stroke="#555" stroke-width="0.9"/>
<line x1="338.9" y1="326" x2="338.9" y2="327.0" stroke="#555" stroke-width="0.6"/>
<text x="338.9" y="330.4" font-family='"Liberation Serif", serif' font-size="3.3" font-weight="bold" text-anchor="middle" textLength="6.3" lengthAdjust="spacingAndGlyphs" fill="#222"  stroke="#222" stroke-width="0.15">0.05</text>
<line x1="349.2" y1="326" x2="349.2" y2="327.0" stroke="#555" stroke-width="0.6"/>
<text x="349.2" y="330.4" font-family='"Liberation Serif", serif' font-size="3.3" font-weight="bold" text-anchor="middle" textLength="6.3" lengthAdjust="spacingAndGlyphs" fill="#222"  stroke="#222" stroke-width="0.15">0.06</text>
<line x1="359.4" y1="326" x2="359.4" y2="327.0" stroke="#555" stroke-width="0.6"/>
<text x="359.4" y="330.4" font-family='"Liberation Serif", serif' font-size="3.3" font-weight="bold" text-anchor="middle" textLength="6.3" lengthAdjust="spacingAndGlyphs" fill="#222"  stroke="#222" stroke-width="0.15">0.07</text>
<line x1="369.7" y1="326" x2="369.7" y2="327.0" stroke="#555" stroke-width="0.6"/>
<text x="369.7" y="330.4" font-family='"Liberation Serif", serif' font-size="3.3" font-weight="bold" text-anchor="middle" textLength="6.3" lengthAdjust="spacingAndGlyphs" fill="#222"  stroke="#222" stroke-width="0.15">0.08</text>
<line x1="379.9" y1="326" x2="379.9" y2="327.0" stroke="#555" stroke-width="0.6"/>
<text x="379.9" y="330.4" font-family='"Liberation Serif", serif' font-size="3.3" font-weight="bold" text-anchor="middle" textLength="6.3" lengthAdjust="spacingAndGlyphs" fill="#222"  stroke="#222" stroke-width="0.15">0.09</text>
<line x1="390.2" y1="326" x2="390.2" y2="327.0" stroke="#555" stroke-width="0.6"/>
<text x="390.2" y="330.4" font-family='"Liberation Serif", serif' font-size="3.3" font-weight="bold" text-anchor="middle" textLength="6.3" lengthAdjust="spacingAndGlyphs" fill="#222"  stroke="#222" stroke-width="0.15">0.10</text>
<line x1="337.9" y1="326.0" x2="338.9" y2="326.0" stroke="#333" stroke-width="0.7"/>
<text transform="translate(336.9,326.0) rotate(-90)" font-family='"Liberation Serif", serif' font-size="3.4" font-weight="bold" text-anchor="middle" textLength="3.6" lengthAdjust="spacingAndGlyphs" fill="#222" stroke="#222" stroke-width="0.15">24</text>
<line x1="337.9" y1="321.1" x2="338.9" y2="321.1" stroke="#333" stroke-width="0.7"/>
<text transform="translate(336.9,321.1) rotate(-90)" font-family='"Liberation Serif", serif' font-size="3.4" font-weight="bold" text-anchor="middle" textLength="3.6" lengthAdjust="spacingAndGlyphs" fill="#222" stroke="#222" stroke-width="0.15">26</text>
<line x1="337.9" y1="316.1" x2="338.9" y2="316.1" stroke="#333" stroke-width="0.7"/>
<text transform="translate(336.9,316.1) rotate(-90)" font-family='"Liberation Serif", serif' font-size="3.4" font-weight="bold" text-anchor="middle" textLength="3.6" lengthAdjust="spacingAndGlyphs" fill="#222" stroke="#222" stroke-width="0.15">28</text>
<line x1="337.9" y1="311.2" x2="338.9" y2="311.2" stroke="#333" stroke-width="0.7"/>
<text transform="translate(336.9,311.2) rotate(-90)" font-family='"Liberation Serif", serif' font-size="3.4" font-weight="bold" text-anchor="middle" textLength="3.6" lengthAdjust="spacingAndGlyphs" fill="#222" stroke="#222" stroke-width="0.15">30</text>
<line x1="337.9" y1="306.3" x2="338.9" y2="306.3" stroke="#333" stroke-width="0.7"/>
<text transform="translate(336.9,306.3) rotate(-90)" font-family='"Liberation Serif", serif' font-size="3.4" font-weight="bold" text-anchor="middle" textLength="3.6" lengthAdjust="spacingAndGlyphs" fill="#222" stroke="#222" stroke-width="0.15">32</text>
<line x1="337.9" y1="301.4" x2="338.9" y2="301.4" stroke="#333" stroke-width="0.7"/>
<text transform="translate(336.9,301.4) rotate(-90)" font-family='"Liberation Serif", serif' font-size="3.4" font-weight="bold" text-anchor="middle" textLength="3.6" lengthAdjust="spacingAndGlyphs" fill="#222" stroke="#222" stroke-width="0.15">34</text>
<line x1="337.9" y1="296.4" x2="338.9" y2="296.4" stroke="#333" stroke-width="0.7"/>
<text transform="translate(336.9,296.4) rotate(-90)" font-family='"Liberation Serif", serif' font-size="3.4" font-weight="bold" text-anchor="middle" textLength="3.6" lengthAdjust="spacingAndGlyphs" fill="#222" stroke="#222" stroke-width="0.15">36</text>
<line x1="337.9" y1="291.5" x2="338.9" y2="291.5" stroke="#333" stroke-width="0.7"/>
<text transform="translate(336.9,291.5) rotate(-90)" font-family='"Liberation Serif", serif' font-size="3.4" font-weight="bold" text-anchor="middle" textLength="3.6" lengthAdjust="spacingAndGlyphs" fill="#222" stroke="#222" stroke-width="0.15">38</text>
<line x1="337.9" y1="286.6" x2="338.9" y2="286.6" stroke="#333" stroke-width="0.7"/>
<text transform="translate(336.9,286.6) rotate(-90)" font-family='"Liberation Serif", serif' font-size="3.4" font-weight="bold" text-anchor="middle" textLength="3.6" lengthAdjust="spacingAndGlyphs" fill="#222" stroke="#222" stroke-width="0.15">40</text>
<line x1="337.9" y1="281.7" x2="338.9" y2="281.7" stroke="#333" stroke-width="0.7"/>
<text transform="translate(336.9,281.7) rotate(-90)" font-family='"Liberation Serif", serif' font-size="3.4" font-weight="bold" text-anchor="middle" textLength="3.6" lengthAdjust="spacingAndGlyphs" fill="#222" stroke="#222" stroke-width="0.15">42</text>
<line x1="337.9" y1="276.7" x2="338.9" y2="276.7" stroke="#333" stroke-width="0.7"/>
<text transform="translate(336.9,276.7) rotate(-90)" font-family='"Liberation Serif", serif' font-size="3.4" font-weight="bold" text-anchor="middle" textLength="3.6" lengthAdjust="spacingAndGlyphs" fill="#222" stroke="#222" stroke-width="0.15">44</text>
<line x1="337.9" y1="271.8" x2="338.9" y2="271.8" stroke="#333" stroke-width="0.7"/>
<text transform="translate(336.9,271.8) rotate(-90)" font-family='"Liberation Serif", serif' font-size="3.4" font-weight="bold" text-anchor="middle" textLength="3.6" lengthAdjust="spacingAndGlyphs" fill="#222" stroke="#222" stroke-width="0.15">46</text>
<rect x="441.5" y="187.8" width="169.3" height="146.4" fill="none" stroke="#111" stroke-width="1.1"/>
<line x1="439.3" y1="334.2" x2="441.5" y2="334.2" stroke="#111" stroke-width="1"/>
<text x="436.6" y="336.8" font-family='"Liberation Serif", serif' font-size="7.6" text-anchor="end" textLength="3.2" lengthAdjust="spacingAndGlyphs" fill="#000"  stroke="#000" stroke-width="0.3">0</text>
<line x1="440.2" y1="323.7" x2="441.5" y2="323.7" stroke="#111" stroke-width="1"/>
<line x1="439.3" y1="313.3" x2="441.5" y2="313.3" stroke="#111" stroke-width="1"/>
<text x="436.6" y="315.9" font-family='"Liberation Serif", serif' font-size="7.6" text-anchor="end" textLength="6.5" lengthAdjust="spacingAndGlyphs" fill="#000"  stroke="#000" stroke-width="0.3">20</text>
<line x1="440.2" y1="302.8" x2="441.5" y2="302.8" stroke="#111" stroke-width="1"/>
<line x1="439.3" y1="292.4" x2="441.5" y2="292.4" stroke="#111" stroke-width="1"/>
<text x="436.6" y="295.0" font-family='"Liberation Serif", serif' font-size="7.6" text-anchor="end" textLength="6.5" lengthAdjust="spacingAndGlyphs" fill="#000"  stroke="#000" stroke-width="0.3">40</text>
<line x1="440.2" y1="281.9" x2="441.5" y2="281.9" stroke="#111" stroke-width="1"/>
<line x1="439.3" y1="271.5" x2="441.5" y2="271.5" stroke="#111" stroke-width="1"/>
<text x="436.6" y="274.1" font-family='"Liberation Serif", serif' font-size="7.6" text-anchor="end" textLength="6.5" lengthAdjust="spacingAndGlyphs" fill="#000"  stroke="#000" stroke-width="0.3">60</text>
<line x1="440.2" y1="261.0" x2="441.5" y2="261.0" stroke="#111" stroke-width="1"/>
<line x1="439.3" y1="250.5" x2="441.5" y2="250.5" stroke="#111" stroke-width="1"/>
<text x="436.6" y="253.1" font-family='"Liberation Serif", serif' font-size="7.6" text-anchor="end" textLength="6.5" lengthAdjust="spacingAndGlyphs" fill="#000"  stroke="#000" stroke-width="0.3">80</text>
<line x1="440.2" y1="240.1" x2="441.5" y2="240.1" stroke="#111" stroke-width="1"/>
<line x1="439.3" y1="229.6" x2="441.5" y2="229.6" stroke="#111" stroke-width="1"/>
<text x="436.6" y="232.2" font-family='"Liberation Serif", serif' font-size="7.6" text-anchor="end" textLength="9.8" lengthAdjust="spacingAndGlyphs" fill="#000"  stroke="#000" stroke-width="0.3">100</text>
<line x1="440.2" y1="219.2" x2="441.5" y2="219.2" stroke="#111" stroke-width="1"/>
<line x1="439.3" y1="208.7" x2="441.5" y2="208.7" stroke="#111" stroke-width="1"/>
<text x="436.6" y="211.3" font-family='"Liberation Serif", serif' font-size="7.6" text-anchor="end" textLength="9.8" lengthAdjust="spacingAndGlyphs" fill="#000"  stroke="#000" stroke-width="0.3">120</text>
<line x1="440.2" y1="198.3" x2="441.5" y2="198.3" stroke="#111" stroke-width="1"/>
<line x1="439.3" y1="187.8" x2="441.5" y2="187.8" stroke="#111" stroke-width="1"/>
<text x="436.6" y="190.4" font-family='"Liberation Serif", serif' font-size="7.6" text-anchor="end" textLength="9.8" lengthAdjust="spacingAndGlyphs" fill="#000"  stroke="#000" stroke-width="0.3">140</text>
<line x1="441.5" y1="334.2" x2="441.5" y2="336.4" stroke="#111" stroke-width="1"/>
<text x="441.5" y="346.2" font-family='"Liberation Serif", serif' font-size="7.8" font-weight="bold" text-anchor="middle" textLength="9.2" lengthAdjust="spacingAndGlyphs" fill="#000"  stroke="#000" stroke-width="0.15">0.0</text>
<line x1="453.6" y1="334.2" x2="453.6" y2="335.5" stroke="#111" stroke-width="1"/>
<line x1="465.7" y1="334.2" x2="465.7" y2="336.4" stroke="#111" stroke-width="1"/>
<text x="465.7" y="346.2" font-family='"Liberation Serif", serif' font-size="7.8" font-weight="bold" text-anchor="middle" textLength="9.2" lengthAdjust="spacingAndGlyphs" fill="#000"  stroke="#000" stroke-width="0.15">0.1</text>
<line x1="477.8" y1="334.2" x2="477.8" y2="335.5" stroke="#111" stroke-width="1"/>
<line x1="489.9" y1="334.2" x2="489.9" y2="336.4" stroke="#111" stroke-width="1"/>
<text x="489.9" y="346.2" font-family='"Liberation Serif", serif' font-size="7.8" font-weight="bold" text-anchor="middle" textLength="9.2" lengthAdjust="spacingAndGlyphs" fill="#000"  stroke="#000" stroke-width="0.15">0.2</text>
<line x1="502.0" y1="334.2" x2="502.0" y2="335.5" stroke="#111" stroke-width="1"/>
<line x1="514.1" y1="334.2" x2="514.1" y2="336.4" stroke="#111" stroke-width="1"/>
<text x="514.1" y="346.2" font-family='"Liberation Serif", serif' font-size="7.8" font-weight="bold" text-anchor="middle" textLength="9.2" lengthAdjust="spacingAndGlyphs" fill="#000"  stroke="#000" stroke-width="0.15">0.3</text>
<line x1="526.1" y1="334.2" x2="526.1" y2="335.5" stroke="#111" stroke-width="1"/>
<line x1="538.2" y1="334.2" x2="538.2" y2="336.4" stroke="#111" stroke-width="1"/>
<text x="538.2" y="346.2" font-family='"Liberation Serif", serif' font-size="7.8" font-weight="bold" text-anchor="middle" textLength="9.2" lengthAdjust="spacingAndGlyphs" fill="#000"  stroke="#000" stroke-width="0.15">0.4</text>
<line x1="550.3" y1="334.2" x2="550.3" y2="335.5" stroke="#111" stroke-width="1"/>
<line x1="562.4" y1="334.2" x2="562.4" y2="336.4" stroke="#111" stroke-width="1"/>
<text x="562.4" y="346.2" font-family='"Liberation Serif", serif' font-size="7.8" font-weight="bold" text-anchor="middle" textLength="9.2" lengthAdjust="spacingAndGlyphs" fill="#000"  stroke="#000" stroke-width="0.15">0.5</text>
<line x1="574.5" y1="334.2" x2="574.5" y2="335.5" stroke="#111" stroke-width="1"/>
<line x1="586.6" y1="334.2" x2="586.6" y2="336.4" stroke="#111" stroke-width="1"/>
<text x="586.6" y="346.2" font-family='"Liberation Serif", serif' font-size="7.8" font-weight="bold" text-anchor="middle" textLength="9.2" lengthAdjust="spacingAndGlyphs" fill="#000"  stroke="#000" stroke-width="0.15">0.6</text>
<line x1="598.7" y1="334.2" x2="598.7" y2="335.5" stroke="#111" stroke-width="1"/>
<line x1="610.8" y1="334.2" x2="610.8" y2="336.4" stroke="#111" stroke-width="1"/>
<text x="610.8" y="346.2" font-family='"Liberation Serif", serif' font-size="7.8" font-weight="bold" text-anchor="middle" textLength="9.2" lengthAdjust="spacingAndGlyphs" fill="#000"  stroke="#000" stroke-width="0.15">0.7</text>
<text x="504.2" y="354.0" font-family='"Liberation Serif", serif' font-size="8.8" font-weight="bold" text-anchor="start" textLength="39.4" lengthAdjust="spacingAndGlyphs" fill="#000"  stroke="#000" stroke-width="0.2">Axial Strain</text>
<text transform="translate(422.9,260.0) rotate(-90) scale(1,0.84)" x="0" y="0" font-family='"Liberation Serif", serif' font-size="8.4" font-weight="bold" text-anchor="middle" textLength="66.2" lengthAdjust="spacingAndGlyphs" stroke="#000" stroke-width="0.2">Axial Stress (GPa)</text>
<text x="407.1" y="205.6" font-family='"Liberation Sans", sans-serif' font-size="13.84" text-anchor="start" textLength="12.7" lengthAdjust="spacingAndGlyphs" fill="#111"  stroke="#111" stroke-width="0.45">(f)</text>
<text x="546.7" y="202.2" font-family='"Liberation Serif", serif' font-size="9.8" font-weight="bold" text-anchor="start" textLength="55.9" lengthAdjust="spacingAndGlyphs" fill="#000"  stroke="#000" stroke-width="0.2">Z_FWBNNT</text>
<line x1="448.5" y1="196.5" x2="466.2" y2="196.5" stroke="#000000" stroke-width="1.5"/>
<text x="468.2" y="199.9" font-family='"Liberation Serif", serif' font-size="8.9" font-weight="bold" text-anchor="start" textLength="9.7" lengthAdjust="spacingAndGlyphs" fill="#000"  stroke="#000" stroke-width="0.25">0K</text>
<line x1="448.5" y1="207.1" x2="466.2" y2="207.1" stroke="#ff0000" stroke-width="1.5"/>
<text x="468.2" y="210.5" font-family='"Liberation Serif", serif' font-size="8.9" font-weight="bold" text-anchor="start" textLength="17.3" lengthAdjust="spacingAndGlyphs" fill="#000"  stroke="#000" stroke-width="0.25">300K</text>
<line x1="448.5" y1="217.7" x2="466.2" y2="217.7" stroke="#0000ff" stroke-width="1.5"/>
<text x="468.2" y="221.1" font-family='"Liberation Serif", serif' font-size="8.9" font-weight="bold" text-anchor="start" textLength="17.3" lengthAdjust="spacingAndGlyphs" fill="#000"  stroke="#000" stroke-width="0.25">500K</text>
<line x1="448.5" y1="228.3" x2="466.2" y2="228.3" stroke="#008000" stroke-width="1.5"/>
<text x="468.2" y="231.7" font-family='"Liberation Serif", serif' font-size="8.9" font-weight="bold" text-anchor="start" textLength="17.3" lengthAdjust="spacingAndGlyphs" fill="#000"  stroke="#000" stroke-width="0.25">700K</text>
<line x1="448.5" y1="238.9" x2="466.2" y2="238.9" stroke="#ff00ff" stroke-width="1.5"/>
<text x="468.2" y="242.3" font-family='"Liberation Serif", serif' font-size="8.9" font-weight="bold" text-anchor="start" textLength="17.3" lengthAdjust="spacingAndGlyphs" fill="#000"  stroke="#000" stroke-width="0.25">900K</text>
<line x1="448.5" y1="249.5" x2="466.2" y2="249.5" stroke="#ff8000" stroke-width="1.5"/>
<text x="468.2" y="252.9" font-family='"Liberation Serif", serif' font-size="8.9" font-weight="bold" text-anchor="start" textLength="21.1" lengthAdjust="spacingAndGlyphs" fill="#000"  stroke="#000" stroke-width="0.25">1100K</text>
<polyline points="441.5,333.9 442.0,333.0 442.7,331.6 443.6,329.8 444.6,327.7 445.8,325.2 447.3,322.1 448.8,319.0 450.3,316.0 451.7,313.4 453.2,310.9 454.6,308.5 456.0,306.0 457.3,303.5 458.5,300.9 459.7,298.4 461.0,296.1 462.4,294.0 464.0,292.1 465.6,290.2 467.2,288.1 468.8,285.7 470.4,283.1 472.0,280.6 473.7,278.1 475.3,275.7 476.9,273.4 478.6,271.0 480.7,268.6 483.3,265.9 486.3,263.0 489.3,260.2 491.9,257.9 493.9,256.1 495.7,254.6 497.3,253.3 499.1,252.0 501.0,250.5 503.1,249.0 505.1,247.5 507.0,246.3 508.5,245.3 509.9,244.5 511.2,243.7 512.6,242.9 514.1,241.9 515.8,240.7 518.2,241.2 519.2,240.4 520.6,239.1 522.2,237.8 523.8,236.6 525.2,235.6 526.7,234.6 528.2,233.7 530.0,232.7 532.0,231.7 534.3,230.7 536.6,229.7 538.9,228.7 541.1,227.8 543.2,226.9 545.3,226.1 547.3,225.3 549.2,224.6 551.0,224.0 552.9,223.5 555.0,222.8 557.3,222.1 559.8,221.3 562.4,220.4 565.1,219.6 568.0,218.7 571.0,217.9 574.1,217.0 577.0,216.2 579.9,215.4 582.8,214.6 585.3,214.0 587.1,213.5 591.0,210.8 591.8,213.7 592.5,219.6 594.7,224.6 600.6,233.6" fill="none" stroke="#000000" stroke-width="1.2" stroke-linejoin="round" stroke-linecap="round"/>
<polyline points="441.4,333.9 442.0,332.9 443.0,331.4 444.1,329.6 445.5,327.5 447.2,324.9 449.3,322.0 451.4,318.9 453.3,316.0 454.8,313.4 456.2,310.9 457.4,308.5 458.7,306.0 460.0,303.5 461.3,300.9 462.6,298.4 464.0,296.0 465.5,293.9 467.1,292.0 468.8,290.1 470.5,288.0 472.2,285.6 474.0,283.0 475.8,280.4 477.5,278.0 479.3,275.6 481.1,273.3 482.7,271.2 483.8,269.8 486.5,268.0 487.9,271.9 489.5,284.3 491.2,293.3" fill="none" stroke="#ff8000" stroke-width="1.2" stroke-linejoin="round" stroke-linecap="round"/>
<polyline points="442.9,334.7 443.4,333.7 444.1,332.3 445.0,330.5 446.0,328.4 447.3,325.9 448.7,322.8 450.2,319.7 451.7,316.8 453.1,314.2 454.6,311.8 456.0,309.3 457.4,306.8 458.7,304.2 459.9,301.6 461.1,299.1 462.3,296.9 463.7,294.9 465.2,293.1 466.8,291.2 468.5,289.0 470.1,286.6 471.7,284.0 473.4,281.4 475.0,278.9 476.6,276.6 478.2,274.3 479.9,272.0 481.9,269.6 484.4,267.0 487.4,264.2 490.3,261.4 492.9,259.1 495.0,257.3 496.7,255.9 497.9,252.4 499.6,252.0 502.0,251.4 504.7,250.8 506.9,250.2 508.7,249.6 510.3,248.9 511.6,248.3 512.5,247.9 517.6,244.5 518.2,249.0 519.3,259.2 521.1,276.4" fill="none" stroke="#008000" stroke-width="1.2" stroke-linejoin="round" stroke-linecap="round"/>
<polyline points="441.8,334.1 442.3,333.1 443.0,331.7 443.9,330.0 444.9,327.9 446.1,325.3 447.6,322.3 449.1,319.1 450.6,316.2 452.0,313.6 453.5,311.1 454.9,308.7 456.3,306.2 457.6,303.6 458.8,301.1 460.0,298.6 461.3,296.2 462.7,294.2 464.3,292.3 465.9,290.4 467.5,288.3 469.1,285.9 470.7,283.3 472.3,280.8 474.0,278.3 475.6,275.9 477.2,273.6 478.9,271.2 480.9,268.8 483.5,266.1 486.5,263.3 489.5,260.5 492.1,258.1 494.2,256.3 495.9,254.9 498.5,253.5 500.1,255.8 502.8,273.8 505.4,289.0" fill="none" stroke="#ff00ff" stroke-width="1.2" stroke-linejoin="round" stroke-linecap="round"/>
<polyline points="441.4,333.9 441.9,332.9 442.6,331.5 443.5,329.8 444.5,327.7 445.7,325.1 447.2,322.1 448.7,318.9 450.2,316.0 451.6,313.4 453.1,310.9 454.5,308.5 455.9,306.0 457.2,303.5 458.4,300.9 459.6,298.4 460.9,296.0 462.4,293.9 463.9,292.0 465.5,290.1 467.1,288.0 468.7,285.6 470.3,283.1 471.9,280.5 473.6,278.0 475.2,275.6 476.8,273.3 478.5,270.9 480.6,268.5 483.2,265.8 486.2,262.9 489.2,260.2 491.8,257.8 493.9,256.0 495.6,254.5 497.2,253.2 499.0,251.9 501.0,250.4 503.0,248.9 505.1,247.5 506.9,246.2 508.5,245.2 509.8,244.4 511.1,243.6 512.5,242.8 514.1,241.8 515.7,240.6 517.2,239.6 518.2,238.9 520.5,237.2 521.1,236.6 521.9,235.7 522.8,234.7 523.8,233.8 524.9,233.0 526.3,232.2 527.5,231.5 528.3,231.0 529.5,230.3 530.7,231.2 532.3,243.9 535.0,261.1" fill="none" stroke="#0000ff" stroke-width="1.2" stroke-linejoin="round" stroke-linecap="round"/>
<polyline points="440.7,333.6 441.2,332.6 441.9,331.2 442.8,329.4 443.8,327.4 445.1,324.8 446.5,321.8 448.0,318.6 449.5,315.7 451.0,313.0 452.4,310.5 453.9,308.1 455.2,305.6 456.5,303.1 457.7,300.6 458.9,298.0 460.3,295.6 461.8,293.5 463.3,291.5 464.9,289.6 466.5,287.6 468.1,285.2 469.7,282.7 471.3,280.1 473.0,277.6 474.6,275.2 476.2,272.9 478.0,270.5 480.0,268.0 482.7,265.3 485.7,262.4 488.7,259.6 491.3,257.2 493.4,255.4 495.1,254.0 496.8,252.7 498.5,251.3 500.5,249.8 502.6,248.3 504.6,246.8 506.5,245.6 508.1,244.6 509.5,243.7 510.8,243.0 512.1,242.2 513.6,241.1 515.3,240.0 516.7,239.0 517.8,238.3 520.5,236.8 521.4,236.2 522.7,235.3 524.1,234.3 525.4,233.4 526.4,232.6 527.3,231.9 528.3,231.1 529.6,230.4 531.3,229.7 533.3,229.0 535.3,228.3 537.2,227.6 538.9,226.9 540.6,226.1 542.0,225.5 543.0,225.0 544.8,224.4 546.0,227.0 548.2,242.2 549.7,250.1 550.7,256.9" fill="none" stroke="#ff0000" stroke-width="1.2" stroke-linejoin="round" stroke-linecap="round"/>
<rect x="543.3" y="271.9" width="54.4" height="54.2" fill="#fff" stroke="#555" stroke-width="0.9"/>
<polyline points="555.7,326.1 559.4,320.4 563.8,317.8 568.2,313.4 572.0,309.1 577.6,303.0 581.1,298.2 585.4,293.8 590.7,289.4 594.2,287.3 597.7,284.3" fill="none" stroke="#ff8000" stroke-width="1.0" stroke-linejoin="round" stroke-linecap="round"/>
<polyline points="545.5,326.0 549.8,322.2 553.3,317.4 559.4,311.3 565.5,304.7 568.0,302.3 576.7,293.8 585.4,285.1 590.7,280.7 594.2,276.4 597.7,273.5" fill="none" stroke="#008000" stroke-width="1.0" stroke-linejoin="round" stroke-linecap="round"/>
<polyline points="543.3,324.8 547.2,319.5 550.7,314.3 555.1,311.7 559.4,308.2 568.0,298.8 576.7,291.2 581.1,287.7 585.4,282.5 593.3,271.9" fill="none" stroke="#ff00ff" stroke-width="1.0" stroke-linejoin="round" stroke-linecap="round"/>
<polyline points="543.3,323.2 568.0,296.4 591.1,271.9" fill="none" stroke="#0000ff" stroke-width="1.0" stroke-linejoin="round" stroke-linecap="round"/>
<polyline points="543.3,321.2 568.0,295.1 589.4,271.9" fill="none" stroke="#000000" stroke-width="1.0" stroke-linejoin="round" stroke-linecap="round"/>
<polyline points="543.3,318.2 568.0,292.5 587.6,271.9" fill="none" stroke="#ff0000" stroke-width="1.0" stroke-linejoin="round" stroke-linecap="round"/>
<rect x="543.3" y="271.9" width="54.4" height="54.2" fill="none" stroke="#555" stroke-width="0.9"/>
<line x1="543.3" y1="326.1" x2="543.3" y2="327.1" stroke="#555" stroke-width="0.6"/>
<text x="543.3" y="330.4" font-family='"Liberation Serif", serif' font-size="3.3" font-weight="bold" text-anchor="middle" textLength="6.3" lengthAdjust="spacingAndGlyphs" fill="#222"  stroke="#222" stroke-width="0.15">0.05</text>
<line x1="554.2" y1="326.1" x2="554.2" y2="327.1" stroke="#555" stroke-width="0.6"/>
<text x="554.2" y="330.4" font-family='"Liberation Serif", serif' font-size="3.3" font-weight="bold" text-anchor="middle" textLength="6.3" lengthAdjust="spacingAndGlyphs" fill="#222"  stroke="#222" stroke-width="0.15">0.06</text>
<line x1="565.1" y1="326.1" x2="565.1" y2="327.1" stroke="#555" stroke-width="0.6"/>
<text x="565.1" y="330.4" font-family='"Liberation Serif", serif' font-size="3.3" font-weight="bold" text-anchor="middle" textLength="6.3" lengthAdjust="spacingAndGlyphs" fill="#222"  stroke="#222" stroke-width="0.15">0.07</text>
<line x1="575.9" y1="326.1" x2="575.9" y2="327.1" stroke="#555" stroke-width="0.6"/>
<text x="575.9" y="330.4" font-family='"Liberation Serif", serif' font-size="3.3" font-weight="bold" text-anchor="middle" textLength="6.3" lengthAdjust="spacingAndGlyphs" fill="#222"  stroke="#222" stroke-width="0.15">0.08</text>
<line x1="586.8" y1="326.1" x2="586.8" y2="327.1" stroke="#555" stroke-width="0.6"/>
<text x="586.8" y="330.4" font-family='"Liberation Serif", serif' font-size="3.3" font-weight="bold" text-anchor="middle" textLength="6.3" lengthAdjust="spacingAndGlyphs" fill="#222"  stroke="#222" stroke-width="0.15">0.09</text>
<line x1="597.7" y1="326.1" x2="597.7" y2="327.1" stroke="#555" stroke-width="0.6"/>
<text x="597.7" y="330.4" font-family='"Liberation Serif", serif' font-size="3.3" font-weight="bold" text-anchor="middle" textLength="6.3" lengthAdjust="spacingAndGlyphs" fill="#222"  stroke="#222" stroke-width="0.15">0.10</text>
<line x1="542.3" y1="326.1" x2="543.3" y2="326.1" stroke="#333" stroke-width="0.7"/>
<text transform="translate(541.3,326.1) rotate(-90)" font-family='"Liberation Serif", serif' font-size="3.4" font-weight="bold" text-anchor="middle" textLength="3.6" lengthAdjust="spacingAndGlyphs" fill="#222" stroke="#222" stroke-width="0.15">24</text>
<line x1="542.3" y1="321.2" x2="543.3" y2="321.2" stroke="#333" stroke-width="0.7"/>
<text transform="translate(541.3,321.2) rotate(-90)" font-family='"Liberation Serif", serif' font-size="3.4" font-weight="bold" text-anchor="middle" textLength="3.6" lengthAdjust="spacingAndGlyphs" fill="#222" stroke="#222" stroke-width="0.15">26</text>
<line x1="542.3" y1="316.2" x2="543.3" y2="316.2" stroke="#333" stroke-width="0.7"/>
<text transform="translate(541.3,316.2) rotate(-90)" font-family='"Liberation Serif", serif' font-size="3.4" font-weight="bold" text-anchor="middle" textLength="3.6" lengthAdjust="spacingAndGlyphs" fill="#222" stroke="#222" stroke-width="0.15">28</text>
<line x1="542.3" y1="311.3" x2="543.3" y2="311.3" stroke="#333" stroke-width="0.7"/>
<text transform="translate(541.3,311.3) rotate(-90)" font-family='"Liberation Serif", serif' font-size="3.4" font-weight="bold" text-anchor="middle" textLength="3.6" lengthAdjust="spacingAndGlyphs" fill="#222" stroke="#222" stroke-width="0.15">30</text>
<line x1="542.3" y1="306.4" x2="543.3" y2="306.4" stroke="#333" stroke-width="0.7"/>
<text transform="translate(541.3,306.4) rotate(-90)" font-family='"Liberation Serif", serif' font-size="3.4" font-weight="bold" text-anchor="middle" textLength="3.6" lengthAdjust="spacingAndGlyphs" fill="#222" stroke="#222" stroke-width="0.15">32</text>
<line x1="542.3" y1="301.5" x2="543.3" y2="301.5" stroke="#333" stroke-width="0.7"/>
<text transform="translate(541.3,301.5) rotate(-90)" font-family='"Liberation Serif", serif' font-size="3.4" font-weight="bold" text-anchor="middle" textLength="3.6" lengthAdjust="spacingAndGlyphs" fill="#222" stroke="#222" stroke-width="0.15">34</text>
<line x1="542.3" y1="296.5" x2="543.3" y2="296.5" stroke="#333" stroke-width="0.7"/>
<text transform="translate(541.3,296.5) rotate(-90)" font-family='"Liberation Serif", serif' font-size="3.4" font-weight="bold" text-anchor="middle" textLength="3.6" lengthAdjust="spacingAndGlyphs" fill="#222" stroke="#222" stroke-width="0.15">36</text>
<line x1="542.3" y1="291.6" x2="543.3" y2="291.6" stroke="#333" stroke-width="0.7"/>
<text transform="translate(541.3,291.6) rotate(-90)" font-family='"Liberation Serif", serif' font-size="3.4" font-weight="bold" text-anchor="middle" textLength="3.6" lengthAdjust="spacingAndGlyphs" fill="#222" stroke="#222" stroke-width="0.15">38</text>
<line x1="542.3" y1="286.7" x2="543.3" y2="286.7" stroke="#333" stroke-width="0.7"/>
<text transform="translate(541.3,286.7) rotate(-90)" font-family='"Liberation Serif", serif' font-size="3.4" font-weight="bold" text-anchor="middle" textLength="3.6" lengthAdjust="spacingAndGlyphs" fill="#222" stroke="#222" stroke-width="0.15">40</text>
<line x1="542.3" y1="281.8" x2="543.3" y2="281.8" stroke="#333" stroke-width="0.7"/>
<text transform="translate(541.3,281.8) rotate(-90)" font-family='"Liberation Serif", serif' font-size="3.4" font-weight="bold" text-anchor="middle" textLength="3.6" lengthAdjust="spacingAndGlyphs" fill="#222" stroke="#222" stroke-width="0.15">42</text>
<line x1="542.3" y1="276.8" x2="543.3" y2="276.8" stroke="#333" stroke-width="0.7"/>
<text transform="translate(541.3,276.8) rotate(-90)" font-family='"Liberation Serif", serif' font-size="3.4" font-weight="bold" text-anchor="middle" textLength="3.6" lengthAdjust="spacingAndGlyphs" fill="#222" stroke="#222" stroke-width="0.15">44</text>
<line x1="542.3" y1="271.9" x2="543.3" y2="271.9" stroke="#333" stroke-width="0.7"/>
<text transform="translate(541.3,271.9) rotate(-90)" font-family='"Liberation Serif", serif' font-size="3.4" font-weight="bold" text-anchor="middle" textLength="3.6" lengthAdjust="spacingAndGlyphs" fill="#222" stroke="#222" stroke-width="0.15">46</text>
</svg>
</body></html>
